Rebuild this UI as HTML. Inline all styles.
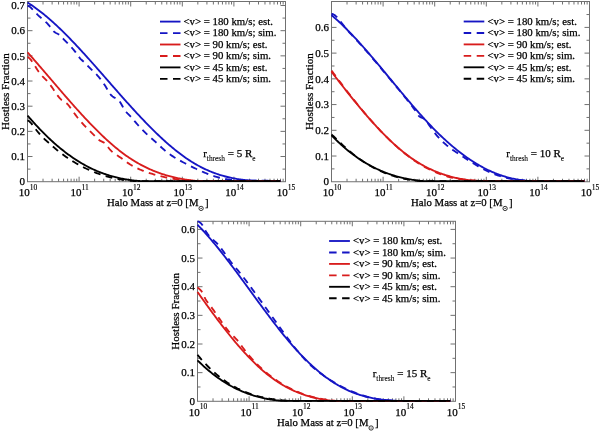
<!DOCTYPE html>
<html><head><meta charset="utf-8"><style>
html,body{margin:0;padding:0;background:#fff;}
svg{display:block;will-change:transform;}
.t{font-family:"Liberation Serif", serif;font-size:11px;fill:#000;stroke:#000;stroke-width:0.25px;}
.sup{font-size:7.5px;stroke-width:0.15px;}
.sub{font-size:7.4px;stroke-width:0.1px;}
</style></head><body>
<svg width="600" height="432" viewBox="0 0 600 432">
<rect width="600" height="432" fill="#fff"/>
<rect x="27.5" y="1.5" width="258.0" height="180.2" fill="none" stroke="#707070" stroke-width="1"/>
<path d="M27.5,169.11h3M285.5,169.11h-3M27.5,156.53h5M285.5,156.53h-5M27.5,143.94h3M285.5,143.94h-3M27.5,131.36h5M285.5,131.36h-5M27.5,118.77h3M285.5,118.77h-3M27.5,106.19h5M285.5,106.19h-5M27.5,93.60h3M285.5,93.60h-3M27.5,81.02h5M285.5,81.02h-5M27.5,68.43h3M285.5,68.43h-3M27.5,55.85h5M285.5,55.85h-5M27.5,43.26h3M285.5,43.26h-3M27.5,30.68h5M285.5,30.68h-5M27.5,18.09h3M285.5,18.09h-3M27.5,5.51h5M285.5,5.51h-5M43.03,181.7v-3M43.03,1.5v3M52.12,181.7v-3M52.12,1.5v3M58.57,181.7v-3M58.57,1.5v3M63.57,181.7v-3M63.57,1.5v3M67.65,181.7v-3M67.65,1.5v3M71.11,181.7v-3M71.11,1.5v3M74.10,181.7v-3M74.10,1.5v3M76.74,181.7v-3M76.74,1.5v3M79.10,181.7v-5M79.10,1.5v5M94.63,181.7v-3M94.63,1.5v3M103.72,181.7v-3M103.72,1.5v3M110.17,181.7v-3M110.17,1.5v3M115.17,181.7v-3M115.17,1.5v3M119.25,181.7v-3M119.25,1.5v3M122.71,181.7v-3M122.71,1.5v3M125.70,181.7v-3M125.70,1.5v3M128.34,181.7v-3M128.34,1.5v3M130.70,181.7v-5M130.70,1.5v5M146.23,181.7v-3M146.23,1.5v3M155.32,181.7v-3M155.32,1.5v3M161.77,181.7v-3M161.77,1.5v3M166.77,181.7v-3M166.77,1.5v3M170.85,181.7v-3M170.85,1.5v3M174.31,181.7v-3M174.31,1.5v3M177.30,181.7v-3M177.30,1.5v3M179.94,181.7v-3M179.94,1.5v3M182.30,181.7v-5M182.30,1.5v5M197.83,181.7v-3M197.83,1.5v3M206.92,181.7v-3M206.92,1.5v3M213.37,181.7v-3M213.37,1.5v3M218.37,181.7v-3M218.37,1.5v3M222.45,181.7v-3M222.45,1.5v3M225.91,181.7v-3M225.91,1.5v3M228.90,181.7v-3M228.90,1.5v3M231.54,181.7v-3M231.54,1.5v3M233.90,181.7v-5M233.90,1.5v5M249.43,181.7v-3M249.43,1.5v3M258.52,181.7v-3M258.52,1.5v3M264.97,181.7v-3M264.97,1.5v3M269.97,181.7v-3M269.97,1.5v3M274.05,181.7v-3M274.05,1.5v3M277.51,181.7v-3M277.51,1.5v3M280.50,181.7v-3M280.50,1.5v3M283.14,181.7v-3M283.14,1.5v3" stroke="#707070" stroke-width="1" fill="none"/>
<path d="M27.50,2.59 L28.50,3.16 L29.50,3.80 L30.50,4.46 L31.50,5.13 L32.50,5.81 L33.50,6.51 L34.50,7.21 L35.50,7.93 L36.50,8.66 L37.50,9.40 L38.50,10.15 L39.50,10.91 L40.50,11.69 L41.50,12.47 L42.50,13.27 L43.50,14.08 L44.50,14.89 L45.50,15.72 L46.50,16.56 L47.50,17.40 L48.50,18.26 L49.50,19.13 L50.50,20.00 L51.50,20.89 L52.50,21.78 L53.50,22.68 L54.50,23.59 L55.50,24.51 L56.50,25.44 L57.50,26.38 L58.50,27.32 L59.50,28.28 L60.50,29.24 L61.50,30.21 L62.50,31.18 L63.50,32.16 L64.50,33.15 L65.50,34.15 L66.50,35.16 L67.50,36.17 L68.50,37.18 L69.50,38.21 L70.50,39.24 L71.50,40.27 L72.50,41.31 L73.50,42.36 L74.50,43.41 L75.50,44.47 L76.50,45.53 L77.50,46.60 L78.50,47.67 L79.50,48.75 L80.50,49.83 L81.50,50.92 L82.50,52.01 L83.50,53.11 L84.50,54.21 L85.50,55.31 L86.50,56.42 L87.50,57.52 L88.50,58.64 L89.50,59.75 L90.50,60.87 L91.50,62.00 L92.50,63.12 L93.50,64.25 L94.50,65.38 L95.50,66.51 L96.50,67.64 L97.50,68.78 L98.50,69.91 L99.50,71.05 L100.50,72.19 L101.50,73.33 L102.50,74.47 L103.50,75.62 L104.50,76.76 L105.50,77.90 L106.50,79.05 L107.50,80.19 L108.50,81.34 L109.50,82.48 L110.50,83.63 L111.50,84.77 L112.50,85.91 L113.50,87.06 L114.50,88.20 L115.50,89.34 L116.50,90.48 L117.50,91.61 L118.50,92.75 L119.50,93.89 L120.50,95.02 L121.50,96.15 L122.50,97.28 L123.50,98.40 L124.50,99.53 L125.50,100.65 L126.50,101.77 L127.50,102.88 L128.50,103.99 L129.50,105.10 L130.50,106.21 L131.50,107.31 L132.50,108.41 L133.50,109.50 L134.50,110.59 L135.50,111.68 L136.50,112.76 L137.50,113.84 L138.50,114.92 L139.50,115.99 L140.50,117.05 L141.50,118.11 L142.50,119.16 L143.50,120.21 L144.50,121.26 L145.50,122.30 L146.50,123.33 L147.50,124.36 L148.50,125.38 L149.50,126.39 L150.50,127.40 L151.50,128.40 L152.50,129.40 L153.50,130.39 L154.50,131.37 L155.50,132.35 L156.50,133.32 L157.50,134.28 L158.50,135.23 L159.50,136.18 L160.50,137.12 L161.50,138.05 L162.50,138.97 L163.50,139.89 L164.50,140.80 L165.50,141.70 L166.50,142.59 L167.50,143.47 L168.50,144.34 L169.50,145.21 L170.50,146.06 L171.50,146.91 L172.50,147.74 L173.50,148.57 L174.50,149.39 L175.50,150.20 L176.50,150.99 L177.50,151.78 L178.50,152.56 L179.50,153.33 L180.50,154.08 L181.50,154.83 L182.50,155.57 L183.50,156.29 L184.50,157.01 L185.50,157.71 L186.50,158.40 L187.50,159.08 L188.50,159.75 L189.50,160.40 L190.50,161.05 L191.50,161.68 L192.50,162.30 L193.50,162.91 L194.50,163.51 L195.50,164.09 L196.50,164.66 L197.50,165.22 L198.50,165.77 L199.50,166.31 L200.50,166.84 L201.50,167.35 L202.50,167.85 L203.50,168.34 L204.50,168.82 L205.50,169.29 L206.50,169.75 L207.50,170.20 L208.50,170.64 L209.50,171.06 L210.50,171.48 L211.50,171.88 L212.50,172.28 L213.50,172.66 L214.50,173.04 L215.50,173.40 L216.50,173.75 L217.50,174.10 L218.50,174.43 L219.50,174.76 L220.50,175.07 L221.50,175.38 L222.50,175.67 L223.50,175.96 L224.50,176.24 L225.50,176.50 L226.50,176.76 L227.50,177.01 L228.50,177.25 L229.50,177.49 L230.50,177.71 L231.50,177.93 L232.50,178.13 L233.50,178.33 L234.50,178.52 L235.50,178.70 L236.50,178.87 L237.50,179.04 L238.50,179.20 L239.50,179.35 L240.50,179.49 L241.50,179.62 L242.50,179.75 L243.50,179.87 L244.50,179.98 L245.50,180.08 L246.50,180.18 L247.50,180.27 L248.50,180.36 L249.50,180.43 L250.50,180.50 L251.50,180.56 L252.50,180.62 L253.50,180.67 L254.50,180.71 L255.50,180.75 L256.50,180.78 L257.50,180.80 L258.50,180.82 L259.50,180.84 L260.50,180.84 L261.50,180.84 L262.50,180.84 L263.50,180.84 L264.50,180.84 L265.50,180.84 L266.50,180.84 L267.50,180.84 L268.50,180.84 L269.50,180.84 L270.50,180.84 L271.50,180.84 L272.50,180.84 L273.50,180.84 L274.50,180.84 L275.50,180.84 L276.50,180.84 L277.50,180.84 L278.50,180.84 L279.50,180.84 L280.34,180.84" fill="none" stroke="#1515c4" stroke-width="1.85" stroke-linejoin="round"/>
<path d="M27.50,5.65 L28.50,6.01 L29.50,6.60 L30.50,7.37 L31.50,8.28 L32.50,9.29 L33.50,10.36 L34.50,11.47 L35.50,12.58 L36.50,13.66 L37.50,14.67 L38.50,15.62 L39.50,16.52 L40.50,17.40 L41.50,18.25 L42.50,19.09 L43.50,19.94 L44.50,20.82 L45.50,21.72 L46.50,22.68 L47.50,23.69 L48.50,24.79 L49.50,25.97 L50.50,27.25 L51.50,28.62 L52.50,29.98 L53.50,31.17 L54.50,32.09 L55.50,32.75 L56.50,33.26 L57.50,33.71 L58.50,34.21 L59.50,34.87 L60.50,35.74 L61.50,36.77 L62.50,37.89 L63.50,39.01 L64.50,40.10 L65.50,41.15 L66.50,42.19 L67.50,43.21 L68.50,44.24 L69.50,45.27 L70.50,46.31 L71.50,47.39 L72.50,48.50 L73.50,49.66 L74.50,50.87 L75.50,52.14 L76.50,53.49 L77.50,54.91 L78.50,56.32 L79.50,57.65 L80.50,58.81 L81.50,59.80 L82.50,60.69 L83.50,61.55 L84.50,62.46 L85.50,63.46 L86.50,64.52 L87.50,65.58 L88.50,66.62 L89.50,67.63 L90.50,68.60 L91.50,69.57 L92.50,70.52 L93.50,71.48 L94.50,72.45 L95.50,73.45 L96.50,74.47 L97.50,75.54 L98.50,76.66 L99.50,77.83 L100.50,79.08 L101.50,80.41 L102.50,81.80 L103.50,83.26 L104.50,84.78 L105.50,86.36 L106.50,87.98 L107.50,89.64 L108.50,91.32 L109.50,92.96 L110.50,94.40 L111.50,95.54 L112.50,96.41 L113.50,97.09 L114.50,97.64 L115.50,98.15 L116.50,98.69 L117.50,99.34 L118.50,100.17 L119.50,101.27 L120.50,102.69 L121.50,104.44 L122.50,106.31 L123.50,108.13 L124.50,109.72 L125.50,111.09 L126.50,112.28 L127.50,113.36 L128.50,114.37 L129.50,115.37 L130.50,116.42 L131.50,117.53 L132.50,118.68 L133.50,119.85 L134.50,121.03 L135.50,122.21 L136.50,123.36 L137.50,124.50 L138.50,125.63 L139.50,126.73 L140.50,127.82 L141.50,128.88 L142.50,129.93 L143.50,130.96 L144.50,131.97 L145.50,132.95 L146.50,133.91 L147.50,134.85 L148.50,135.76 L149.50,136.65 L150.50,137.53 L151.50,138.39 L152.50,139.25 L153.50,140.12 L154.50,140.99 L155.50,141.88 L156.50,142.79 L157.50,143.72 L158.50,144.66 L159.50,145.60 L160.50,146.54 L161.50,147.48 L162.50,148.40 L163.50,149.30 L164.50,150.17 L165.50,151.01 L166.50,151.82 L167.50,152.60 L168.50,153.36 L169.50,154.09 L170.50,154.79 L171.50,155.48 L172.50,156.14 L173.50,156.79 L174.50,157.42 L175.50,158.03 L176.50,158.62 L177.50,159.20 L178.50,159.77 L179.50,160.33 L180.50,160.88 L181.50,161.42 L182.50,161.95 L183.50,162.48 L184.50,163.00 L185.50,163.52 L186.50,164.04 L187.50,164.55 L188.50,165.06 L189.50,165.57 L190.50,166.08 L191.50,166.58 L192.50,167.08 L193.50,167.57 L194.50,168.06 L195.50,168.54 L196.50,169.02 L197.50,169.49 L198.50,169.95 L199.50,170.41 L200.50,170.86 L201.50,171.31 L202.50,171.75 L203.50,172.18 L204.50,172.60 L205.50,173.01 L206.50,173.42 L207.50,173.81 L208.50,174.20 L209.50,174.58 L210.50,174.95 L211.50,175.31 L212.50,175.65 L213.50,175.99 L214.50,176.31 L215.50,176.63 L216.50,176.93 L217.50,177.22 L218.50,177.50 L219.50,177.76 L220.50,178.01 L221.50,178.25 L222.50,178.48 L223.50,178.69 L224.50,178.89 L225.50,179.08 L226.50,179.25 L227.50,179.41 L228.50,179.56 L229.50,179.70 L230.50,179.83 L231.50,179.95 L232.50,180.06 L233.50,180.16 L234.50,180.25 L235.50,180.34 L236.50,180.41 L237.50,180.48 L238.50,180.53 L239.50,180.59 L240.50,180.63 L241.50,180.67 L242.50,180.70 L243.50,180.73 L244.50,180.75 L245.50,180.76 L246.50,180.78 L247.50,180.78 L248.50,180.79 L249.50,180.79 L250.50,180.79 L251.50,180.79 L252.50,180.79 L253.50,180.79 L254.50,180.79 L255.50,180.79 L256.50,180.79 L257.50,180.79 L258.50,180.79 L259.50,180.79 L260.50,180.79 L261.50,180.79 L262.50,180.79 L263.50,180.79 L264.50,180.79 L265.50,180.79 L266.50,180.79 L267.50,180.79 L268.50,180.79 L269.50,180.79 L270.50,180.79 L271.50,180.79 L272.50,180.79 L273.50,180.79 L274.50,180.80 L275.50,180.84 L276.50,180.89 L277.50,180.95 L278.50,181.02 L279.50,181.10 L280.34,181.15" fill="none" stroke="#1515c4" stroke-width="1.85" stroke-dasharray="6.8 5.4" stroke-linejoin="round"/>
<path d="M27.50,52.42 L28.50,53.43 L29.50,54.57 L30.50,55.70 L31.50,56.84 L32.50,57.98 L33.50,59.12 L34.50,60.27 L35.50,61.42 L36.50,62.57 L37.50,63.72 L38.50,64.88 L39.50,66.04 L40.50,67.20 L41.50,68.36 L42.50,69.52 L43.50,70.68 L44.50,71.85 L45.50,73.01 L46.50,74.18 L47.50,75.35 L48.50,76.51 L49.50,77.68 L50.50,78.85 L51.50,80.02 L52.50,81.19 L53.50,82.35 L54.50,83.52 L55.50,84.69 L56.50,85.85 L57.50,87.02 L58.50,88.18 L59.50,89.34 L60.50,90.50 L61.50,91.66 L62.50,92.82 L63.50,93.98 L64.50,95.13 L65.50,96.28 L66.50,97.43 L67.50,98.57 L68.50,99.72 L69.50,100.86 L70.50,102.00 L71.50,103.13 L72.50,104.26 L73.50,105.39 L74.50,106.51 L75.50,107.63 L76.50,108.75 L77.50,109.86 L78.50,110.97 L79.50,112.07 L80.50,113.17 L81.50,114.26 L82.50,115.35 L83.50,116.43 L84.50,117.51 L85.50,118.58 L86.50,119.65 L87.50,120.71 L88.50,121.76 L89.50,122.81 L90.50,123.86 L91.50,124.89 L92.50,125.92 L93.50,126.94 L94.50,127.96 L95.50,128.97 L96.50,129.97 L97.50,130.97 L98.50,131.95 L99.50,132.93 L100.50,133.90 L101.50,134.87 L102.50,135.82 L103.50,136.77 L104.50,137.71 L105.50,138.64 L106.50,139.56 L107.50,140.47 L108.50,141.37 L109.50,142.27 L110.50,143.15 L111.50,144.03 L112.50,144.89 L113.50,145.74 L114.50,146.59 L115.50,147.42 L116.50,148.25 L117.50,149.06 L118.50,149.86 L119.50,150.66 L120.50,151.44 L121.50,152.21 L122.50,152.96 L123.50,153.71 L124.50,154.45 L125.50,155.17 L126.50,155.88 L127.50,156.58 L128.50,157.27 L129.50,157.94 L130.50,158.60 L131.50,159.25 L132.50,159.89 L133.50,160.52 L134.50,161.14 L135.50,161.74 L136.50,162.33 L137.50,162.91 L138.50,163.49 L139.50,164.04 L140.50,164.59 L141.50,165.13 L142.50,165.66 L143.50,166.17 L144.50,166.68 L145.50,167.17 L146.50,167.66 L147.50,168.13 L148.50,168.60 L149.50,169.05 L150.50,169.50 L151.50,169.93 L152.50,170.36 L153.50,170.77 L154.50,171.18 L155.50,171.57 L156.50,171.96 L157.50,172.34 L158.50,172.71 L159.50,173.06 L160.50,173.42 L161.50,173.76 L162.50,174.09 L163.50,174.41 L164.50,174.73 L165.50,175.04 L166.50,175.34 L167.50,175.63 L168.50,175.91 L169.50,176.19 L170.50,176.45 L171.50,176.71 L172.50,176.96 L173.50,177.21 L174.50,177.44 L175.50,177.67 L176.50,177.89 L177.50,178.11 L178.50,178.32 L179.50,178.52 L180.50,178.71 L181.50,178.90 L182.50,179.08 L183.50,179.25 L184.50,179.42 L185.50,179.58 L186.50,179.74 L187.50,179.88 L188.50,180.03 L189.50,180.16 L190.50,180.29 L191.50,180.42 L192.50,180.54 L193.50,180.65 L194.50,180.76 L195.50,180.86 L196.50,180.96 L197.50,181.05 L198.50,181.14 L199.50,181.15 L200.50,181.15 L201.50,181.15 L202.50,181.15 L203.50,181.15 L204.50,181.15 L205.50,181.15 L206.50,181.15 L207.50,181.15 L208.50,181.15 L209.50,181.15 L210.50,181.15 L211.50,181.15 L212.50,181.15 L213.50,181.15 L214.50,181.15 L215.50,181.15 L216.50,181.15 L217.50,181.15 L218.50,181.15 L219.50,181.15 L220.50,181.15 L221.50,181.15 L222.50,181.15 L223.50,181.15 L224.50,181.15 L225.50,181.15 L226.50,181.15 L227.50,181.15 L228.50,181.15 L229.50,181.15 L230.50,181.15 L231.50,181.15 L232.50,181.15 L233.50,181.15 L234.50,181.15 L235.50,181.15 L236.50,181.15 L237.50,181.15 L238.50,181.15 L239.50,181.15 L240.50,181.15 L241.50,181.15 L242.50,181.15 L243.50,181.15 L244.50,181.15 L245.50,181.15 L246.50,181.15 L247.50,181.15 L248.50,181.15 L249.50,181.15 L250.50,181.15 L251.50,181.15 L252.50,181.15 L253.50,181.15 L254.50,181.15 L255.50,181.15 L256.50,181.15 L257.50,181.15 L258.50,181.15 L259.50,181.15 L260.50,181.15 L261.50,181.15 L262.50,181.15 L263.50,181.15 L264.50,181.15 L265.50,181.15 L266.50,181.15 L267.50,181.15 L268.50,181.15 L269.50,181.15 L270.50,181.15 L271.50,181.15 L272.50,181.15 L273.50,181.15 L274.50,181.15 L275.50,181.15 L276.50,181.15 L277.50,181.15 L278.50,181.15 L279.50,181.15 L280.34,181.15" fill="none" stroke="#d81c1c" stroke-width="1.85" stroke-linejoin="round"/>
<path d="M27.50,56.86 L28.50,57.44 L29.50,58.32 L30.50,59.42 L31.50,60.69 L32.50,62.11 L33.50,63.62 L34.50,65.21 L35.50,66.83 L36.50,68.44 L37.50,70.01 L38.50,71.49 L39.50,72.87 L40.50,74.11 L41.50,75.25 L42.50,76.31 L43.50,77.32 L44.50,78.31 L45.50,79.30 L46.50,80.33 L47.50,81.41 L48.50,82.58 L49.50,83.85 L50.50,85.20 L51.50,86.62 L52.50,88.07 L53.50,89.55 L54.50,91.03 L55.50,92.50 L56.50,93.94 L57.50,95.32 L58.50,96.63 L59.50,97.84 L60.50,98.95 L61.50,99.92 L62.50,100.75 L63.50,101.41 L64.50,101.97 L65.50,102.54 L66.50,103.22 L67.50,104.11 L68.50,105.24 L69.50,106.54 L70.50,107.95 L71.50,109.38 L72.50,110.80 L73.50,112.20 L74.50,113.57 L75.50,114.92 L76.50,116.24 L77.50,117.53 L78.50,118.78 L79.50,120.00 L80.50,121.18 L81.50,122.33 L82.50,123.44 L83.50,124.52 L84.50,125.58 L85.50,126.62 L86.50,127.64 L87.50,128.65 L88.50,129.64 L89.50,130.63 L90.50,131.62 L91.50,132.60 L92.50,133.59 L93.50,134.58 L94.50,135.59 L95.50,136.61 L96.50,137.64 L97.50,138.66 L98.50,139.59 L99.50,140.35 L100.50,140.92 L101.50,141.38 L102.50,141.82 L103.50,142.33 L104.50,142.98 L105.50,143.86 L106.50,145.01 L107.50,146.33 L108.50,147.70 L109.50,149.01 L110.50,150.16 L111.50,151.17 L112.50,152.07 L113.50,152.87 L114.50,153.60 L115.50,154.27 L116.50,154.92 L117.50,155.56 L118.50,156.21 L119.50,156.89 L120.50,157.59 L121.50,158.31 L122.50,159.05 L123.50,159.79 L124.50,160.53 L125.50,161.27 L126.50,161.99 L127.50,162.70 L128.50,163.38 L129.50,164.04 L130.50,164.67 L131.50,165.27 L132.50,165.85 L133.50,166.41 L134.50,166.94 L135.50,167.45 L136.50,167.95 L137.50,168.42 L138.50,168.88 L139.50,169.32 L140.50,169.74 L141.50,170.15 L142.50,170.55 L143.50,170.93 L144.50,171.31 L145.50,171.67 L146.50,172.03 L147.50,172.37 L148.50,172.71 L149.50,173.04 L150.50,173.37 L151.50,173.68 L152.50,173.99 L153.50,174.29 L154.50,174.58 L155.50,174.86 L156.50,175.14 L157.50,175.41 L158.50,175.67 L159.50,175.93 L160.50,176.17 L161.50,176.41 L162.50,176.65 L163.50,176.87 L164.50,177.09 L165.50,177.31 L166.50,177.51 L167.50,177.71 L168.50,177.91 L169.50,178.10 L170.50,178.28 L171.50,178.45 L172.50,178.62 L173.50,178.78 L174.50,178.94 L175.50,179.09 L176.50,179.24 L177.50,179.38 L178.50,179.52 L179.50,179.65 L180.50,179.77 L181.50,179.89 L182.50,180.00 L183.50,180.11 L184.50,180.22 L185.50,180.31 L186.50,180.41 L187.50,180.50 L188.50,180.58 L189.50,180.66 L190.50,180.74 L191.50,180.81 L192.50,180.88 L193.50,180.94 L194.50,181.00 L195.50,181.06 L196.50,181.11 L197.50,181.15 L198.50,181.15 L199.50,181.15 L200.50,181.15 L201.50,181.15 L202.50,181.15 L203.50,181.15 L204.50,181.15 L205.50,181.15 L206.50,181.15 L207.50,181.15 L208.50,181.15 L209.50,181.15 L210.50,181.15 L211.50,181.15 L212.50,181.15 L213.50,181.15 L214.50,181.15 L215.50,181.15 L216.50,181.15 L217.50,181.15 L218.50,181.15 L219.50,181.15 L220.50,181.15 L221.50,181.15 L222.50,181.15 L223.50,181.15 L224.50,181.15 L225.50,181.15 L226.50,181.15 L227.50,181.15 L228.50,181.15 L229.50,181.15 L230.50,181.15 L231.50,181.15 L232.50,181.15 L233.50,181.15 L234.50,181.15 L235.50,181.15 L236.50,181.15 L237.50,181.15 L238.50,181.15 L239.50,181.15 L240.50,181.15 L241.50,181.15 L242.50,181.15 L243.50,181.15 L244.50,181.15 L245.50,181.15 L246.50,181.15 L247.50,181.15 L248.50,181.15 L249.50,181.15 L250.50,181.15 L251.50,181.15 L252.50,181.15 L253.50,181.15 L254.50,181.15 L255.50,181.15 L256.50,181.15 L257.50,181.15 L258.50,181.15 L259.50,181.15 L260.50,181.15 L261.50,181.15 L262.50,181.15 L263.50,181.15 L264.50,181.15 L265.50,181.15 L266.50,181.15 L267.50,181.15 L268.50,181.15 L269.50,181.15 L270.50,181.15 L271.50,181.15 L272.50,181.15 L273.50,181.15 L274.50,181.15 L275.50,181.15 L276.50,181.15 L277.50,181.15 L278.50,181.15 L279.50,181.15 L280.34,181.15" fill="none" stroke="#d81c1c" stroke-width="1.85" stroke-dasharray="6.8 5.4" stroke-linejoin="round"/>
<path d="M27.50,115.63 L28.50,116.57 L29.50,117.74 L30.50,118.90 L31.50,120.05 L32.50,121.18 L33.50,122.30 L34.50,123.42 L35.50,124.52 L36.50,125.61 L37.50,126.69 L38.50,127.75 L39.50,128.81 L40.50,129.86 L41.50,130.89 L42.50,131.91 L43.50,132.93 L44.50,133.93 L45.50,134.92 L46.50,135.90 L47.50,136.86 L48.50,137.82 L49.50,138.77 L50.50,139.70 L51.50,140.63 L52.50,141.54 L53.50,142.44 L54.50,143.33 L55.50,144.21 L56.50,145.08 L57.50,145.94 L58.50,146.78 L59.50,147.62 L60.50,148.44 L61.50,149.25 L62.50,150.06 L63.50,150.85 L64.50,151.63 L65.50,152.40 L66.50,153.15 L67.50,153.90 L68.50,154.64 L69.50,155.36 L70.50,156.08 L71.50,156.78 L72.50,157.47 L73.50,158.15 L74.50,158.82 L75.50,159.48 L76.50,160.13 L77.50,160.77 L78.50,161.40 L79.50,162.01 L80.50,162.62 L81.50,163.21 L82.50,163.79 L83.50,164.37 L84.50,164.93 L85.50,165.48 L86.50,166.02 L87.50,166.54 L88.50,167.06 L89.50,167.57 L90.50,168.06 L91.50,168.55 L92.50,169.02 L93.50,169.49 L94.50,169.94 L95.50,170.38 L96.50,170.81 L97.50,171.23 L98.50,171.65 L99.50,172.05 L100.50,172.44 L101.50,172.82 L102.50,173.19 L103.50,173.56 L104.50,173.91 L105.50,174.25 L106.50,174.59 L107.50,174.91 L108.50,175.23 L109.50,175.54 L110.50,175.83 L111.50,176.12 L112.50,176.40 L113.50,176.68 L114.50,176.94 L115.50,177.19 L116.50,177.44 L117.50,177.68 L118.50,177.91 L119.50,178.13 L120.50,178.34 L121.50,178.55 L122.50,178.75 L123.50,178.94 L124.50,179.12 L125.50,179.30 L126.50,179.47 L127.50,179.63 L128.50,179.78 L129.50,179.93 L130.50,180.07 L131.50,180.21 L132.50,180.33 L133.50,180.45 L134.50,180.57 L135.50,180.67 L136.50,180.78 L137.50,180.87 L138.50,180.96 L139.50,181.04 L140.50,181.12 L141.50,181.15 L142.50,181.15 L143.50,181.15 L144.50,181.15 L145.50,181.15 L146.50,181.15 L147.50,181.15 L148.50,181.15 L149.50,181.15 L150.50,181.15 L151.50,181.15 L152.50,181.15 L153.50,181.15 L154.50,181.15 L155.50,181.15 L156.50,181.15 L157.50,181.15 L158.50,181.15 L159.50,181.15 L160.50,181.15 L161.50,181.15 L162.50,181.15 L163.50,181.15 L164.50,181.15 L165.50,181.15 L166.50,181.15 L167.50,181.15 L168.50,181.15 L169.50,181.15 L170.50,181.15 L171.50,181.15 L172.50,181.15 L173.50,181.15 L174.50,181.15 L175.50,181.15 L176.50,181.15 L177.50,181.15 L178.50,181.15 L179.50,181.15 L180.50,181.15 L181.50,181.15 L182.50,181.15 L183.50,181.15 L184.50,181.15 L185.50,181.15 L186.50,181.15 L187.50,181.15 L188.50,181.15 L189.50,181.15 L190.50,181.15 L191.50,181.15 L192.50,181.15 L193.50,181.15 L194.50,181.15 L195.50,181.15 L196.50,181.15 L197.50,181.15 L198.50,181.15 L199.50,181.15 L200.50,181.15 L201.50,181.15 L202.50,181.15 L203.50,181.15 L204.50,181.15 L205.50,181.15 L206.50,181.15 L207.50,181.15 L208.50,181.15 L209.50,181.15 L210.50,181.15 L211.50,181.15 L212.50,181.15 L213.50,181.15 L214.50,181.15 L215.50,181.15 L216.50,181.15 L217.50,181.15 L218.50,181.15 L219.50,181.15 L220.50,181.15 L221.50,181.15 L222.50,181.15 L223.50,181.15 L224.50,181.15 L225.50,181.15 L226.50,181.15 L227.50,181.15 L228.50,181.15 L229.50,181.15 L230.50,181.15 L231.50,181.15 L232.50,181.15 L233.50,181.15 L234.50,181.15 L235.50,181.15 L236.50,181.15 L237.50,181.15 L238.50,181.15 L239.50,181.15 L240.50,181.15 L241.50,181.15 L242.50,181.15 L243.50,181.15 L244.50,181.15 L245.50,181.15 L246.50,181.15 L247.50,181.15 L248.50,181.15 L249.50,181.15 L250.50,181.15 L251.50,181.15 L252.50,181.15 L253.50,181.15 L254.50,181.15 L255.50,181.15 L256.50,181.15 L257.50,181.15 L258.50,181.15 L259.50,181.15 L260.50,181.15 L261.50,181.15 L262.50,181.15 L263.50,181.15 L264.50,181.15 L265.50,181.15 L266.50,181.15 L267.50,181.15 L268.50,181.15 L269.50,181.15 L270.50,181.15 L271.50,181.15 L272.50,181.15 L273.50,181.15 L274.50,181.15 L275.50,181.15 L276.50,181.15 L277.50,181.15 L278.50,181.15 L279.50,181.15 L280.34,181.15" fill="none" stroke="#000000" stroke-width="1.85" stroke-linejoin="round"/>
<path d="M27.50,120.45 L28.50,120.84 L29.50,121.56 L30.50,122.50 L31.50,123.60 L32.50,124.84 L33.50,126.16 L34.50,127.52 L35.50,128.89 L36.50,130.22 L37.50,131.49 L38.50,132.72 L39.50,133.89 L40.50,135.01 L41.50,136.09 L42.50,137.11 L43.50,138.10 L44.50,139.05 L45.50,139.97 L46.50,140.88 L47.50,141.77 L48.50,142.65 L49.50,143.54 L50.50,144.43 L51.50,145.32 L52.50,146.20 L53.50,147.07 L54.50,147.92 L55.50,148.76 L56.50,149.59 L57.50,150.41 L58.50,151.21 L59.50,152.00 L60.50,152.77 L61.50,153.53 L62.50,154.28 L63.50,155.02 L64.50,155.75 L65.50,156.46 L66.50,157.16 L67.50,157.85 L68.50,158.52 L69.50,159.18 L70.50,159.84 L71.50,160.48 L72.50,161.11 L73.50,161.72 L74.50,162.33 L75.50,162.93 L76.50,163.51 L77.50,164.08 L78.50,164.65 L79.50,165.20 L80.50,165.74 L81.50,166.27 L82.50,166.79 L83.50,167.30 L84.50,167.80 L85.50,168.29 L86.50,168.77 L87.50,169.24 L88.50,169.70 L89.50,170.15 L90.50,170.59 L91.50,171.02 L92.50,171.43 L93.50,171.84 L94.50,172.24 L95.50,172.64 L96.50,173.02 L97.50,173.39 L98.50,173.75 L99.50,174.10 L100.50,174.44 L101.50,174.78 L102.50,175.10 L103.50,175.42 L104.50,175.72 L105.50,176.02 L106.50,176.31 L107.50,176.59 L108.50,176.86 L109.50,177.12 L110.50,177.37 L111.50,177.62 L112.50,177.85 L113.50,178.08 L114.50,178.30 L115.50,178.51 L116.50,178.71 L117.50,178.91 L118.50,179.09 L119.50,179.27 L120.50,179.45 L121.50,179.61 L122.50,179.77 L123.50,179.92 L124.50,180.06 L125.50,180.19 L126.50,180.32 L127.50,180.44 L128.50,180.56 L129.50,180.67 L130.50,180.77 L131.50,180.86 L132.50,180.95 L133.50,181.03 L134.50,181.11 L135.50,181.15 L136.50,181.15 L137.50,181.15 L138.50,181.15 L139.50,181.15 L140.50,181.15 L141.50,181.15 L142.50,181.15 L143.50,181.15 L144.50,181.15 L145.50,181.15 L146.50,181.15 L147.50,181.15 L148.50,181.15 L149.50,181.15 L150.50,181.15 L151.50,181.15 L152.50,181.15 L153.50,181.15 L154.50,181.15 L155.50,181.15 L156.50,181.15 L157.50,181.15 L158.50,181.15 L159.50,181.15 L160.50,181.15 L161.50,181.15 L162.50,181.15 L163.50,181.15 L164.50,181.15 L165.50,181.15 L166.50,181.15 L167.50,181.15 L168.50,181.15 L169.50,181.15 L170.50,181.15 L171.50,181.15 L172.50,181.15 L173.50,181.15 L174.50,181.15 L175.50,181.15 L176.50,181.15 L177.50,181.15 L178.50,181.15 L179.50,181.15 L180.50,181.15 L181.50,181.15 L182.50,181.15 L183.50,181.15 L184.50,181.15 L185.50,181.15 L186.50,181.15 L187.50,181.15 L188.50,181.15 L189.50,181.15 L190.50,181.15 L191.50,181.15 L192.50,181.15 L193.50,181.15 L194.50,181.15 L195.50,181.15 L196.50,181.15 L197.50,181.15 L198.50,181.15 L199.50,181.15 L200.50,181.15 L201.50,181.15 L202.50,181.15 L203.50,181.15 L204.50,181.15 L205.50,181.15 L206.50,181.15 L207.50,181.15 L208.50,181.15 L209.50,181.15 L210.50,181.15 L211.50,181.15 L212.50,181.15 L213.50,181.15 L214.50,181.15 L215.50,181.15 L216.50,181.15 L217.50,181.15 L218.50,181.15 L219.50,181.15 L220.50,181.15 L221.50,181.15 L222.50,181.15 L223.50,181.15 L224.50,181.15 L225.50,181.15 L226.50,181.15 L227.50,181.15 L228.50,181.15 L229.50,181.15 L230.50,181.15 L231.50,181.15 L232.50,181.15 L233.50,181.15 L234.50,181.15 L235.50,181.15 L236.50,181.15 L237.50,181.15 L238.50,181.15 L239.50,181.15 L240.50,181.15 L241.50,181.15 L242.50,181.15 L243.50,181.15 L244.50,181.15 L245.50,181.15 L246.50,181.15 L247.50,181.15 L248.50,181.15 L249.50,181.15 L250.50,181.15 L251.50,181.15 L252.50,181.15 L253.50,181.15 L254.50,181.15 L255.50,181.15 L256.50,181.15 L257.50,181.15 L258.50,181.15 L259.50,181.15 L260.50,181.15 L261.50,181.15 L262.50,181.15 L263.50,181.15 L264.50,181.15 L265.50,181.15 L266.50,181.15 L267.50,181.15 L268.50,181.15 L269.50,181.15 L270.50,181.15 L271.50,181.15 L272.50,181.15 L273.50,181.15 L274.50,181.15 L275.50,181.15 L276.50,181.15 L277.50,181.15 L278.50,181.15 L279.50,181.15 L280.34,181.15" fill="none" stroke="#000000" stroke-width="1.85" stroke-dasharray="6.8 5.4" stroke-linejoin="round"/>
<text x="25.0" y="185.40" text-anchor="end" class="t">0</text>
<text x="25.0" y="160.23" text-anchor="end" class="t">0.1</text>
<text x="25.0" y="135.06" text-anchor="end" class="t">0.2</text>
<text x="25.0" y="109.89" text-anchor="end" class="t">0.3</text>
<text x="25.0" y="84.72" text-anchor="end" class="t">0.4</text>
<text x="25.0" y="59.55" text-anchor="end" class="t">0.5</text>
<text x="25.0" y="34.38" text-anchor="end" class="t">0.6</text>
<text x="25.0" y="9.21" text-anchor="end" class="t">0.7</text>
<text x="28.00" y="196.2" text-anchor="middle" class="t">10<tspan dy="-6.4" class="sup">10</tspan></text>
<text x="79.60" y="196.2" text-anchor="middle" class="t">10<tspan dy="-6.4" class="sup">11</tspan></text>
<text x="131.20" y="196.2" text-anchor="middle" class="t">10<tspan dy="-6.4" class="sup">12</tspan></text>
<text x="182.80" y="196.2" text-anchor="middle" class="t">10<tspan dy="-6.4" class="sup">13</tspan></text>
<text x="234.40" y="196.2" text-anchor="middle" class="t">10<tspan dy="-6.4" class="sup">14</tspan></text>
<text x="286.00" y="196.2" text-anchor="middle" class="t">10<tspan dy="-6.4" class="sup">15</tspan></text>
<text x="107.00" y="206.10" class="t" style="font-size:10.75px">Halo Mass at z=0 [M</text>
<circle cx="201.10" cy="208.40" r="2.15" fill="none" stroke="#000" stroke-width="0.8"/><circle cx="201.10" cy="208.40" r="0.6" fill="#000"/>
<text x="204.90" y="206.10" class="t" style="font-size:10.75px">]</text>
<text transform="translate(9.0,91.60) rotate(-90)" text-anchor="middle" class="t">Hostless Fraction</text>
<path d="M160.0,21.60H180.5" stroke="#1515c4" stroke-width="1.85"/>
<text x="183.5" y="24.90" class="t" style="font-size:10.8px">&lt;v&gt; = 180 km/s; est.</text>
<path d="M160.0,33.05H180.5" stroke="#1515c4" stroke-width="1.85" stroke-dasharray="7.5 5.5"/>
<text x="183.5" y="36.35" class="t" style="font-size:10.8px">&lt;v&gt; = 180 km/s; sim.</text>
<path d="M160.0,44.50H180.5" stroke="#d81c1c" stroke-width="1.85"/>
<text x="183.5" y="47.80" class="t" style="font-size:10.8px">&lt;v&gt; = 90 km/s; est.</text>
<path d="M160.0,55.95H180.5" stroke="#d81c1c" stroke-width="1.85" stroke-dasharray="7.5 5.5"/>
<text x="183.5" y="59.25" class="t" style="font-size:10.8px">&lt;v&gt; = 90 km/s; sim.</text>
<path d="M160.0,67.40H180.5" stroke="#000000" stroke-width="1.85"/>
<text x="183.5" y="70.70" class="t" style="font-size:10.8px">&lt;v&gt; = 45 km/s; est.</text>
<path d="M160.0,78.85H180.5" stroke="#000000" stroke-width="1.85" stroke-dasharray="7.5 5.5"/>
<text x="183.5" y="82.15" class="t" style="font-size:10.8px">&lt;v&gt; = 45 km/s; sim.</text>
<text x="203.2" y="157.4" class="t">r<tspan dy="3.8" class="sub">thresh</tspan><tspan dy="-3.8"> = 5 R</tspan><tspan dy="3.8" class="sub">e</tspan></text>
<rect x="331.5" y="1.5" width="258.0" height="180.25" fill="none" stroke="#707070" stroke-width="1"/>
<path d="M331.5,168.89h3M589.5,168.89h-3M331.5,156.03h5M589.5,156.03h-5M331.5,143.16h3M589.5,143.16h-3M331.5,130.30h5M589.5,130.30h-5M331.5,117.44h3M589.5,117.44h-3M331.5,104.57h5M589.5,104.57h-5M331.5,91.71h3M589.5,91.71h-3M331.5,78.85h5M589.5,78.85h-5M331.5,65.99h3M589.5,65.99h-3M331.5,53.12h5M589.5,53.12h-5M331.5,40.26h3M589.5,40.26h-3M331.5,27.40h5M589.5,27.40h-5M331.5,14.54h3M589.5,14.54h-3M347.03,181.75v-3M347.03,1.5v3M356.12,181.75v-3M356.12,1.5v3M362.57,181.75v-3M362.57,1.5v3M367.57,181.75v-3M367.57,1.5v3M371.65,181.75v-3M371.65,1.5v3M375.11,181.75v-3M375.11,1.5v3M378.10,181.75v-3M378.10,1.5v3M380.74,181.75v-3M380.74,1.5v3M383.10,181.75v-5M383.10,1.5v5M398.63,181.75v-3M398.63,1.5v3M407.72,181.75v-3M407.72,1.5v3M414.17,181.75v-3M414.17,1.5v3M419.17,181.75v-3M419.17,1.5v3M423.25,181.75v-3M423.25,1.5v3M426.71,181.75v-3M426.71,1.5v3M429.70,181.75v-3M429.70,1.5v3M432.34,181.75v-3M432.34,1.5v3M434.70,181.75v-5M434.70,1.5v5M450.23,181.75v-3M450.23,1.5v3M459.32,181.75v-3M459.32,1.5v3M465.77,181.75v-3M465.77,1.5v3M470.77,181.75v-3M470.77,1.5v3M474.85,181.75v-3M474.85,1.5v3M478.31,181.75v-3M478.31,1.5v3M481.30,181.75v-3M481.30,1.5v3M483.94,181.75v-3M483.94,1.5v3M486.30,181.75v-5M486.30,1.5v5M501.83,181.75v-3M501.83,1.5v3M510.92,181.75v-3M510.92,1.5v3M517.37,181.75v-3M517.37,1.5v3M522.37,181.75v-3M522.37,1.5v3M526.45,181.75v-3M526.45,1.5v3M529.91,181.75v-3M529.91,1.5v3M532.90,181.75v-3M532.90,1.5v3M535.54,181.75v-3M535.54,1.5v3M537.90,181.75v-5M537.90,1.5v5M553.43,181.75v-3M553.43,1.5v3M562.52,181.75v-3M562.52,1.5v3M568.97,181.75v-3M568.97,1.5v3M573.97,181.75v-3M573.97,1.5v3M578.05,181.75v-3M578.05,1.5v3M581.51,181.75v-3M581.51,1.5v3M584.50,181.75v-3M584.50,1.5v3M587.14,181.75v-3M587.14,1.5v3" stroke="#707070" stroke-width="1" fill="none"/>
<path d="M331.50,15.12 L332.50,15.97 L333.50,16.83 L334.50,17.70 L335.50,18.58 L336.50,19.48 L337.50,20.39 L338.50,21.30 L339.50,22.23 L340.50,23.17 L341.50,24.12 L342.50,25.08 L343.50,26.05 L344.50,27.03 L345.50,28.02 L346.50,29.02 L347.50,30.03 L348.50,31.05 L349.50,32.08 L350.50,33.11 L351.50,34.16 L352.50,35.21 L353.50,36.27 L354.50,37.34 L355.50,38.41 L356.50,39.49 L357.50,40.58 L358.50,41.68 L359.50,42.78 L360.50,43.89 L361.50,45.01 L362.50,46.13 L363.50,47.26 L364.50,48.39 L365.50,49.53 L366.50,50.68 L367.50,51.83 L368.50,52.98 L369.50,54.14 L370.50,55.31 L371.50,56.48 L372.50,57.65 L373.50,58.82 L374.50,60.00 L375.50,61.19 L376.50,62.37 L377.50,63.56 L378.50,64.76 L379.50,65.95 L380.50,67.15 L381.50,68.35 L382.50,69.55 L383.50,70.75 L384.50,71.96 L385.50,73.16 L386.50,74.37 L387.50,75.58 L388.50,76.79 L389.50,78.00 L390.50,79.21 L391.50,80.42 L392.50,81.63 L393.50,82.84 L394.50,84.04 L395.50,85.25 L396.50,86.46 L397.50,87.67 L398.50,88.87 L399.50,90.07 L400.50,91.27 L401.50,92.47 L402.50,93.67 L403.50,94.87 L404.50,96.06 L405.50,97.25 L406.50,98.43 L407.50,99.62 L408.50,100.80 L409.50,101.97 L410.50,103.15 L411.50,104.31 L412.50,105.48 L413.50,106.64 L414.50,107.79 L415.50,108.94 L416.50,110.09 L417.50,111.23 L418.50,112.36 L419.50,113.49 L420.50,114.61 L421.50,115.73 L422.50,116.84 L423.50,117.94 L424.50,119.04 L425.50,120.13 L426.50,121.21 L427.50,122.29 L428.50,123.36 L429.50,124.42 L430.50,125.47 L431.50,126.51 L432.50,127.55 L433.50,128.57 L434.50,129.59 L435.50,130.60 L436.50,131.60 L437.50,132.59 L438.50,133.57 L439.50,134.54 L440.50,135.51 L441.50,136.46 L442.50,137.40 L443.50,138.34 L444.50,139.26 L445.50,140.18 L446.50,141.09 L447.50,141.98 L448.50,142.87 L449.50,143.75 L450.50,144.62 L451.50,145.48 L452.50,146.33 L453.50,147.16 L454.50,147.99 L455.50,148.81 L456.50,149.63 L457.50,150.43 L458.50,151.22 L459.50,152.00 L460.50,152.77 L461.50,153.53 L462.50,154.28 L463.50,155.02 L464.50,155.75 L465.50,156.47 L466.50,157.19 L467.50,157.89 L468.50,158.58 L469.50,159.26 L470.50,159.93 L471.50,160.59 L472.50,161.24 L473.50,161.88 L474.50,162.51 L475.50,163.13 L476.50,163.74 L477.50,164.33 L478.50,164.92 L479.50,165.50 L480.50,166.07 L481.50,166.62 L482.50,167.17 L483.50,167.71 L484.50,168.23 L485.50,168.74 L486.50,169.25 L487.50,169.74 L488.50,170.22 L489.50,170.69 L490.50,171.15 L491.50,171.60 L492.50,172.04 L493.50,172.47 L494.50,172.89 L495.50,173.29 L496.50,173.69 L497.50,174.07 L498.50,174.45 L499.50,174.81 L500.50,175.16 L501.50,175.50 L502.50,175.83 L503.50,176.15 L504.50,176.45 L505.50,176.75 L506.50,177.03 L507.50,177.31 L508.50,177.57 L509.50,177.83 L510.50,178.07 L511.50,178.31 L512.50,178.53 L513.50,178.75 L514.50,178.96 L515.50,179.15 L516.50,179.34 L517.50,179.52 L518.50,179.69 L519.50,179.86 L520.50,180.01 L521.50,180.16 L522.50,180.29 L523.50,180.43 L524.50,180.55 L525.50,180.66 L526.50,180.77 L527.50,180.87 L528.50,180.97 L529.50,181.06 L530.50,181.14 L531.50,181.15 L532.50,181.15 L533.50,181.15 L534.50,181.15 L535.50,181.15 L536.50,181.15 L537.50,181.15 L538.50,181.15 L539.50,181.15 L540.50,181.15 L541.50,181.15 L542.50,181.15 L543.50,181.15 L544.50,181.15 L545.50,181.15 L546.50,181.15 L547.50,181.15 L548.50,181.15 L549.50,181.15 L550.50,181.15 L551.50,181.15 L552.50,181.15 L553.50,181.15 L554.50,181.15 L555.50,181.15 L556.50,181.15 L557.50,181.15 L558.50,181.15 L559.50,181.15 L560.50,181.15 L561.50,181.15 L562.50,181.15 L563.50,181.15 L564.50,181.15 L565.50,181.15 L566.50,181.15 L567.50,181.15 L568.50,181.15 L569.50,181.15 L570.50,181.15 L571.50,181.15 L572.50,181.15 L573.50,181.15 L574.50,181.15 L575.50,181.15 L576.50,181.15 L577.50,181.15 L578.50,181.15 L579.50,181.15 L580.50,181.15 L581.50,181.15 L582.50,181.15 L583.50,181.15 L584.34,181.15" fill="none" stroke="#1515c4" stroke-width="1.85" stroke-linejoin="round"/>
<path d="M331.50,13.80 L332.50,14.01 L333.50,14.43 L334.50,15.04 L335.50,15.82 L336.50,16.74 L337.50,17.79 L338.50,18.93 L339.50,20.16 L340.50,21.44 L341.50,22.75 L342.50,24.08 L343.50,25.40 L344.50,26.68 L345.50,27.92 L346.50,29.12 L347.50,30.29 L348.50,31.43 L349.50,32.55 L350.50,33.64 L351.50,34.72 L352.50,35.79 L353.50,36.86 L354.50,37.92 L355.50,38.98 L356.50,40.05 L357.50,41.13 L358.50,42.22 L359.50,43.32 L360.50,44.42 L361.50,45.53 L362.50,46.65 L363.50,47.78 L364.50,48.91 L365.50,50.05 L366.50,51.20 L367.50,52.35 L368.50,53.51 L369.50,54.67 L370.50,55.84 L371.50,57.01 L372.50,58.18 L373.50,59.36 L374.50,60.55 L375.50,61.73 L376.50,62.92 L377.50,64.12 L378.50,65.31 L379.50,66.51 L380.50,67.70 L381.50,68.90 L382.50,70.10 L383.50,71.30 L384.50,72.51 L385.50,73.71 L386.50,74.91 L387.50,76.11 L388.50,77.31 L389.50,78.51 L390.50,79.70 L391.50,80.90 L392.50,82.09 L393.50,83.28 L394.50,84.48 L395.50,85.67 L396.50,86.86 L397.50,88.06 L398.50,89.26 L399.50,90.46 L400.50,91.67 L401.50,92.88 L402.50,94.10 L403.50,95.32 L404.50,96.55 L405.50,97.80 L406.50,99.04 L407.50,100.30 L408.50,101.57 L409.50,102.85 L410.50,104.15 L411.50,105.45 L412.50,106.77 L413.50,108.10 L414.50,109.45 L415.50,110.88 L416.50,112.49 L417.50,114.16 L418.50,115.56 L419.50,116.50 L420.50,117.11 L421.50,117.55 L422.50,117.97 L423.50,118.52 L424.50,119.31 L425.50,120.31 L426.50,121.48 L427.50,122.78 L428.50,124.17 L429.50,125.60 L430.50,127.04 L431.50,128.46 L432.50,129.86 L433.50,131.23 L434.50,132.56 L435.50,133.85 L436.50,135.10 L437.50,136.29 L438.50,137.43 L439.50,138.53 L440.50,139.58 L441.50,140.60 L442.50,141.57 L443.50,142.51 L444.50,143.41 L445.50,144.28 L446.50,145.13 L447.50,145.94 L448.50,146.73 L449.50,147.50 L450.50,148.24 L451.50,148.97 L452.50,149.69 L453.50,150.39 L454.50,151.08 L455.50,151.76 L456.50,152.43 L457.50,153.10 L458.50,153.77 L459.50,154.43 L460.50,155.10 L461.50,155.77 L462.50,156.43 L463.50,157.09 L464.50,157.75 L465.50,158.40 L466.50,159.05 L467.50,159.70 L468.50,160.34 L469.50,160.98 L470.50,161.61 L471.50,162.24 L472.50,162.86 L473.50,163.47 L474.50,164.08 L475.50,164.68 L476.50,165.27 L477.50,165.86 L478.50,166.43 L479.50,167.00 L480.50,167.56 L481.50,168.11 L482.50,168.65 L483.50,169.17 L484.50,169.69 L485.50,170.20 L486.50,170.69 L487.50,171.18 L488.50,171.65 L489.50,172.10 L490.50,172.55 L491.50,172.98 L492.50,173.39 L493.50,173.79 L494.50,174.18 L495.50,174.56 L496.50,174.92 L497.50,175.27 L498.50,175.60 L499.50,175.92 L500.50,176.23 L501.50,176.53 L502.50,176.81 L503.50,177.09 L504.50,177.35 L505.50,177.60 L506.50,177.84 L507.50,178.06 L508.50,178.28 L509.50,178.49 L510.50,178.69 L511.50,178.87 L512.50,179.05 L513.50,179.22 L514.50,179.38 L515.50,179.52 L516.50,179.66 L517.50,179.80 L518.50,179.92 L519.50,180.04 L520.50,180.14 L521.50,180.24 L522.50,180.33 L523.50,180.42 L524.50,180.50 L525.50,180.57 L526.50,180.63 L527.50,180.69 L528.50,180.74 L529.50,180.79 L530.50,180.83 L531.50,180.87 L532.50,180.90 L533.50,180.93 L534.50,180.95 L535.50,180.96 L536.50,180.98 L537.50,180.98 L538.50,180.99 L539.50,180.99 L540.50,180.99 L541.50,180.99 L542.50,180.99 L543.50,180.99 L544.50,180.99 L545.50,180.99 L546.50,180.99 L547.50,180.99 L548.50,180.99 L549.50,180.99 L550.50,180.99 L551.50,180.99 L552.50,180.99 L553.50,180.99 L554.50,180.99 L555.50,180.99 L556.50,180.99 L557.50,180.99 L558.50,180.99 L559.50,180.99 L560.50,180.99 L561.50,180.99 L562.50,180.99 L563.50,180.99 L564.50,180.99 L565.50,180.99 L566.50,180.99 L567.50,180.99 L568.50,180.99 L569.50,180.99 L570.50,180.99 L571.50,180.99 L572.50,180.99 L573.50,180.99 L574.50,180.99 L575.50,180.99 L576.50,180.99 L577.50,180.99 L578.50,180.99 L579.50,180.99 L580.50,180.99 L581.50,180.99 L582.50,181.04 L583.50,181.11 L584.34,181.15" fill="none" stroke="#1515c4" stroke-width="1.85" stroke-dasharray="6.8 5.4" stroke-linejoin="round"/>
<path d="M331.50,71.87 L332.50,73.04 L333.50,74.35 L334.50,75.66 L335.50,76.96 L336.50,78.26 L337.50,79.55 L338.50,80.85 L339.50,82.14 L340.50,83.43 L341.50,84.71 L342.50,86.00 L343.50,87.27 L344.50,88.55 L345.50,89.82 L346.50,91.09 L347.50,92.35 L348.50,93.61 L349.50,94.86 L350.50,96.11 L351.50,97.36 L352.50,98.60 L353.50,99.83 L354.50,101.06 L355.50,102.29 L356.50,103.51 L357.50,104.72 L358.50,105.93 L359.50,107.14 L360.50,108.33 L361.50,109.52 L362.50,110.71 L363.50,111.89 L364.50,113.06 L365.50,114.22 L366.50,115.38 L367.50,116.53 L368.50,117.68 L369.50,118.81 L370.50,119.94 L371.50,121.07 L372.50,122.18 L373.50,123.29 L374.50,124.39 L375.50,125.48 L376.50,126.56 L377.50,127.64 L378.50,128.70 L379.50,129.76 L380.50,130.81 L381.50,131.85 L382.50,132.88 L383.50,133.90 L384.50,134.91 L385.50,135.91 L386.50,136.91 L387.50,137.89 L388.50,138.86 L389.50,139.83 L390.50,140.78 L391.50,141.72 L392.50,142.65 L393.50,143.58 L394.50,144.49 L395.50,145.39 L396.50,146.27 L397.50,147.15 L398.50,148.02 L399.50,148.87 L400.50,149.72 L401.50,150.55 L402.50,151.37 L403.50,152.17 L404.50,152.97 L405.50,153.75 L406.50,154.52 L407.50,155.28 L408.50,156.03 L409.50,156.76 L410.50,157.48 L411.50,158.18 L412.50,158.87 L413.50,159.55 L414.50,160.22 L415.50,160.87 L416.50,161.51 L417.50,162.14 L418.50,162.76 L419.50,163.36 L420.50,163.95 L421.50,164.53 L422.50,165.10 L423.50,165.65 L424.50,166.20 L425.50,166.73 L426.50,167.25 L427.50,167.76 L428.50,168.25 L429.50,168.74 L430.50,169.21 L431.50,169.68 L432.50,170.13 L433.50,170.57 L434.50,171.00 L435.50,171.42 L436.50,171.83 L437.50,172.23 L438.50,172.62 L439.50,173.00 L440.50,173.37 L441.50,173.73 L442.50,174.08 L443.50,174.42 L444.50,174.75 L445.50,175.07 L446.50,175.38 L447.50,175.68 L448.50,175.98 L449.50,176.26 L450.50,176.54 L451.50,176.80 L452.50,177.06 L453.50,177.31 L454.50,177.55 L455.50,177.79 L456.50,178.01 L457.50,178.23 L458.50,178.44 L459.50,178.64 L460.50,178.83 L461.50,179.02 L462.50,179.20 L463.50,179.37 L464.50,179.53 L465.50,179.69 L466.50,179.84 L467.50,179.98 L468.50,180.12 L469.50,180.25 L470.50,180.37 L471.50,180.49 L472.50,180.60 L473.50,180.70 L474.50,180.80 L475.50,180.89 L476.50,180.98 L477.50,181.06 L478.50,181.13 L479.50,181.15 L480.50,181.15 L481.50,181.15 L482.50,181.15 L483.50,181.15 L484.50,181.15 L485.50,181.15 L486.50,181.15 L487.50,181.15 L488.50,181.15 L489.50,181.15 L490.50,181.15 L491.50,181.15 L492.50,181.15 L493.50,181.15 L494.50,181.15 L495.50,181.15 L496.50,181.15 L497.50,181.15 L498.50,181.15 L499.50,181.15 L500.50,181.15 L501.50,181.15 L502.50,181.15 L503.50,181.15 L504.50,181.15 L505.50,181.15 L506.50,181.15 L507.50,181.15 L508.50,181.15 L509.50,181.15 L510.50,181.15 L511.50,181.15 L512.50,181.15 L513.50,181.15 L514.50,181.15 L515.50,181.15 L516.50,181.15 L517.50,181.15 L518.50,181.15 L519.50,181.15 L520.50,181.15 L521.50,181.15 L522.50,181.15 L523.50,181.15 L524.50,181.15 L525.50,181.15 L526.50,181.15 L527.50,181.15 L528.50,181.15 L529.50,181.15 L530.50,181.15 L531.50,181.15 L532.50,181.15 L533.50,181.15 L534.50,181.15 L535.50,181.15 L536.50,181.15 L537.50,181.15 L538.50,181.15 L539.50,181.15 L540.50,181.15 L541.50,181.15 L542.50,181.15 L543.50,181.15 L544.50,181.15 L545.50,181.15 L546.50,181.15 L547.50,181.15 L548.50,181.15 L549.50,181.15 L550.50,181.15 L551.50,181.15 L552.50,181.15 L553.50,181.15 L554.50,181.15 L555.50,181.15 L556.50,181.15 L557.50,181.15 L558.50,181.15 L559.50,181.15 L560.50,181.15 L561.50,181.15 L562.50,181.15 L563.50,181.15 L564.50,181.15 L565.50,181.15 L566.50,181.15 L567.50,181.15 L568.50,181.15 L569.50,181.15 L570.50,181.15 L571.50,181.15 L572.50,181.15 L573.50,181.15 L574.50,181.15 L575.50,181.15 L576.50,181.15 L577.50,181.15 L578.50,181.15 L579.50,181.15 L580.50,181.15 L581.50,181.15 L582.50,181.15 L583.50,181.15 L584.34,181.15" fill="none" stroke="#d81c1c" stroke-width="1.85" stroke-linejoin="round"/>
<path d="M331.50,70.60 L332.50,71.83 L333.50,73.19 L334.50,74.55 L335.50,75.90 L336.50,77.25 L337.50,78.59 L338.50,79.93 L339.50,81.27 L340.50,82.60 L341.50,83.92 L342.50,85.24 L343.50,86.56 L344.50,87.87 L345.50,89.18 L346.50,90.48 L347.50,91.77 L348.50,93.06 L349.50,94.34 L350.50,95.62 L351.50,96.89 L352.50,98.16 L353.50,99.42 L354.50,100.67 L355.50,101.92 L356.50,103.16 L357.50,104.40 L358.50,105.63 L359.50,106.85 L360.50,108.06 L361.50,109.27 L362.50,110.47 L363.50,111.67 L364.50,112.86 L365.50,114.04 L366.50,115.21 L367.50,116.38 L368.50,117.54 L369.50,118.69 L370.50,119.83 L371.50,120.96 L372.50,122.09 L373.50,123.21 L374.50,124.32 L375.50,125.42 L376.50,126.52 L377.50,127.60 L378.50,128.68 L379.50,129.74 L380.50,130.80 L381.50,131.85 L382.50,132.89 L383.50,133.92 L384.50,134.95 L385.50,135.96 L386.50,136.96 L387.50,137.95 L388.50,138.94 L389.50,139.91 L390.50,140.87 L391.50,141.82 L392.50,142.77 L393.50,143.70 L394.50,144.62 L395.50,145.53 L396.50,146.43 L397.50,147.32 L398.50,148.20 L399.50,149.06 L400.50,149.92 L401.50,150.76 L402.50,151.60 L403.50,152.42 L404.50,153.23 L405.50,154.02 L406.50,154.81 L407.50,155.58 L408.50,156.35 L409.50,157.09 L410.50,157.83 L411.50,158.56 L412.50,159.27 L413.50,159.97 L414.50,160.65 L415.50,161.33 L416.50,161.99 L417.50,162.64 L418.50,163.28 L419.50,163.90 L420.50,164.51 L421.50,165.11 L422.50,165.70 L423.50,166.28 L424.50,166.84 L425.50,167.39 L426.50,167.93 L427.50,168.46 L428.50,168.97 L429.50,169.48 L430.50,169.97 L431.50,170.45 L432.50,170.92 L433.50,171.37 L434.50,171.81 L435.50,172.24 L436.50,172.66 L437.50,173.07 L438.50,173.47 L439.50,173.85 L440.50,174.23 L441.50,174.59 L442.50,174.94 L443.50,175.27 L444.50,175.60 L445.50,175.91 L446.50,176.22 L447.50,176.51 L448.50,176.79 L449.50,177.06 L450.50,177.31 L451.50,177.56 L452.50,177.79 L453.50,178.01 L454.50,178.23 L455.50,178.43 L456.50,178.62 L457.50,178.79 L458.50,178.96 L459.50,179.12 L460.50,179.27 L461.50,179.41 L462.50,179.54 L463.50,179.66 L464.50,179.78 L465.50,179.88 L466.50,179.98 L467.50,180.07 L468.50,180.16 L469.50,180.24 L470.50,180.31 L471.50,180.38 L472.50,180.44 L473.50,180.49 L474.50,180.54 L475.50,180.59 L476.50,180.63 L477.50,180.67 L478.50,180.71 L479.50,180.74 L480.50,180.77 L481.50,180.79 L482.50,180.82 L483.50,180.84 L484.50,180.86 L485.50,180.88 L486.50,180.90 L487.50,180.92 L488.50,180.94 L489.50,180.96 L490.50,180.98 L491.50,181.00 L492.50,181.03 L493.50,181.05 L494.50,181.07 L495.50,181.10 L496.50,181.12 L497.50,181.15 L498.50,181.15 L499.50,181.15 L500.50,181.15 L501.50,181.15 L502.50,181.15 L503.50,181.15 L504.50,181.15 L505.50,181.15 L506.50,181.15 L507.50,181.15 L508.50,181.15 L509.50,181.15 L510.50,181.15 L511.50,181.15 L512.50,181.15 L513.50,181.15 L514.50,181.15 L515.50,181.15 L516.50,181.15 L517.50,181.15 L518.50,181.15 L519.50,181.15 L520.50,181.15 L521.50,181.15 L522.50,181.15 L523.50,181.15 L524.50,181.15 L525.50,181.15 L526.50,181.15 L527.50,181.15 L528.50,181.15 L529.50,181.15 L530.50,181.15 L531.50,181.15 L532.50,181.15 L533.50,181.15 L534.50,181.15 L535.50,181.15 L536.50,181.15 L537.50,181.15 L538.50,181.15 L539.50,181.15 L540.50,181.15 L541.50,181.15 L542.50,181.15 L543.50,181.15 L544.50,181.15 L545.50,181.15 L546.50,181.15 L547.50,181.15 L548.50,181.15 L549.50,181.15 L550.50,181.15 L551.50,181.15 L552.50,181.15 L553.50,181.15 L554.50,181.15 L555.50,181.15 L556.50,181.15 L557.50,181.15 L558.50,181.15 L559.50,181.15 L560.50,181.15 L561.50,181.15 L562.50,181.15 L563.50,181.15 L564.50,181.15 L565.50,181.15 L566.50,181.15 L567.50,181.15 L568.50,181.15 L569.50,181.15 L570.50,181.15 L571.50,181.15 L572.50,181.15 L573.50,181.15 L574.50,181.15 L575.50,181.15 L576.50,181.15 L577.50,181.15 L578.50,181.15 L579.50,181.15 L580.50,181.15 L581.50,181.15 L582.50,181.15 L583.50,181.15 L584.34,181.15" fill="none" stroke="#d81c1c" stroke-width="1.85" stroke-dasharray="6.8 5.4" stroke-linejoin="round"/>
<path d="M331.50,135.37 L332.50,136.30 L333.50,137.32 L334.50,138.33 L335.50,139.33 L336.50,140.31 L337.50,141.27 L338.50,142.22 L339.50,143.16 L340.50,144.09 L341.50,144.99 L342.50,145.89 L343.50,146.77 L344.50,147.64 L345.50,148.50 L346.50,149.34 L347.50,150.16 L348.50,150.98 L349.50,151.78 L350.50,152.57 L351.50,153.34 L352.50,154.11 L353.50,154.86 L354.50,155.59 L355.50,156.32 L356.50,157.03 L357.50,157.73 L358.50,158.42 L359.50,159.09 L360.50,159.75 L361.50,160.40 L362.50,161.04 L363.50,161.67 L364.50,162.28 L365.50,162.89 L366.50,163.48 L367.50,164.06 L368.50,164.63 L369.50,165.18 L370.50,165.73 L371.50,166.27 L372.50,166.79 L373.50,167.30 L374.50,167.81 L375.50,168.30 L376.50,168.78 L377.50,169.25 L378.50,169.71 L379.50,170.16 L380.50,170.60 L381.50,171.03 L382.50,171.45 L383.50,171.85 L384.50,172.25 L385.50,172.64 L386.50,173.02 L387.50,173.39 L388.50,173.75 L389.50,174.10 L390.50,174.44 L391.50,174.78 L392.50,175.10 L393.50,175.41 L394.50,175.72 L395.50,176.02 L396.50,176.30 L397.50,176.58 L398.50,176.85 L399.50,177.11 L400.50,177.37 L401.50,177.61 L402.50,177.85 L403.50,178.08 L404.50,178.30 L405.50,178.51 L406.50,178.72 L407.50,178.91 L408.50,179.10 L409.50,179.29 L410.50,179.46 L411.50,179.63 L412.50,179.79 L413.50,179.94 L414.50,180.08 L415.50,180.22 L416.50,180.35 L417.50,180.48 L418.50,180.60 L419.50,180.71 L420.50,180.81 L421.50,180.91 L422.50,181.00 L423.50,181.09 L424.50,181.15 L425.50,181.15 L426.50,181.15 L427.50,181.15 L428.50,181.15 L429.50,181.15 L430.50,181.15 L431.50,181.15 L432.50,181.15 L433.50,181.15 L434.50,181.15 L435.50,181.15 L436.50,181.15 L437.50,181.15 L438.50,181.15 L439.50,181.15 L440.50,181.15 L441.50,181.15 L442.50,181.15 L443.50,181.15 L444.50,181.15 L445.50,181.15 L446.50,181.15 L447.50,181.15 L448.50,181.15 L449.50,181.15 L450.50,181.15 L451.50,181.15 L452.50,181.15 L453.50,181.15 L454.50,181.15 L455.50,181.15 L456.50,181.15 L457.50,181.15 L458.50,181.15 L459.50,181.15 L460.50,181.15 L461.50,181.15 L462.50,181.15 L463.50,181.15 L464.50,181.15 L465.50,181.15 L466.50,181.15 L467.50,181.15 L468.50,181.15 L469.50,181.15 L470.50,181.15 L471.50,181.15 L472.50,181.15 L473.50,181.15 L474.50,181.15 L475.50,181.15 L476.50,181.15 L477.50,181.15 L478.50,181.15 L479.50,181.15 L480.50,181.15 L481.50,181.15 L482.50,181.15 L483.50,181.15 L484.50,181.15 L485.50,181.15 L486.50,181.15 L487.50,181.15 L488.50,181.15 L489.50,181.15 L490.50,181.15 L491.50,181.15 L492.50,181.15 L493.50,181.15 L494.50,181.15 L495.50,181.15 L496.50,181.15 L497.50,181.15 L498.50,181.15 L499.50,181.15 L500.50,181.15 L501.50,181.15 L502.50,181.15 L503.50,181.15 L504.50,181.15 L505.50,181.15 L506.50,181.15 L507.50,181.15 L508.50,181.15 L509.50,181.15 L510.50,181.15 L511.50,181.15 L512.50,181.15 L513.50,181.15 L514.50,181.15 L515.50,181.15 L516.50,181.15 L517.50,181.15 L518.50,181.15 L519.50,181.15 L520.50,181.15 L521.50,181.15 L522.50,181.15 L523.50,181.15 L524.50,181.15 L525.50,181.15 L526.50,181.15 L527.50,181.15 L528.50,181.15 L529.50,181.15 L530.50,181.15 L531.50,181.15 L532.50,181.15 L533.50,181.15 L534.50,181.15 L535.50,181.15 L536.50,181.15 L537.50,181.15 L538.50,181.15 L539.50,181.15 L540.50,181.15 L541.50,181.15 L542.50,181.15 L543.50,181.15 L544.50,181.15 L545.50,181.15 L546.50,181.15 L547.50,181.15 L548.50,181.15 L549.50,181.15 L550.50,181.15 L551.50,181.15 L552.50,181.15 L553.50,181.15 L554.50,181.15 L555.50,181.15 L556.50,181.15 L557.50,181.15 L558.50,181.15 L559.50,181.15 L560.50,181.15 L561.50,181.15 L562.50,181.15 L563.50,181.15 L564.50,181.15 L565.50,181.15 L566.50,181.15 L567.50,181.15 L568.50,181.15 L569.50,181.15 L570.50,181.15 L571.50,181.15 L572.50,181.15 L573.50,181.15 L574.50,181.15 L575.50,181.15 L576.50,181.15 L577.50,181.15 L578.50,181.15 L579.50,181.15 L580.50,181.15 L581.50,181.15 L582.50,181.15 L583.50,181.15 L584.34,181.15" fill="none" stroke="#000000" stroke-width="1.85" stroke-linejoin="round"/>
<path d="M331.50,134.53 L332.50,135.36 L333.50,136.29 L334.50,137.23 L335.50,138.17 L336.50,139.13 L337.50,140.08 L338.50,141.04 L339.50,142.01 L340.50,142.96 L341.50,143.92 L342.50,144.86 L343.50,145.80 L344.50,146.73 L345.50,147.64 L346.50,148.55 L347.50,149.43 L348.50,150.30 L349.50,151.16 L350.50,152.00 L351.50,152.83 L352.50,153.65 L353.50,154.45 L354.50,155.23 L355.50,156.01 L356.50,156.76 L357.50,157.51 L358.50,158.24 L359.50,158.96 L360.50,159.66 L361.50,160.36 L362.50,161.03 L363.50,161.70 L364.50,162.35 L365.50,162.99 L366.50,163.61 L367.50,164.23 L368.50,164.83 L369.50,165.41 L370.50,165.99 L371.50,166.55 L372.50,167.10 L373.50,167.64 L374.50,168.16 L375.50,168.68 L376.50,169.18 L377.50,169.67 L378.50,170.14 L379.50,170.61 L380.50,171.06 L381.50,171.51 L382.50,171.94 L383.50,172.36 L384.50,172.77 L385.50,173.17 L386.50,173.56 L387.50,173.93 L388.50,174.30 L389.50,174.66 L390.50,175.00 L391.50,175.34 L392.50,175.66 L393.50,175.98 L394.50,176.28 L395.50,176.58 L396.50,176.86 L397.50,177.14 L398.50,177.40 L399.50,177.66 L400.50,177.91 L401.50,178.14 L402.50,178.37 L403.50,178.59 L404.50,178.80 L405.50,179.01 L406.50,179.20 L407.50,179.39 L408.50,179.56 L409.50,179.73 L410.50,179.89 L411.50,180.04 L412.50,180.19 L413.50,180.32 L414.50,180.45 L415.50,180.57 L416.50,180.68 L417.50,180.79 L418.50,180.89 L419.50,180.98 L420.50,181.06 L421.50,181.14 L422.50,181.15 L423.50,181.15 L424.50,181.15 L425.50,181.15 L426.50,181.15 L427.50,181.15 L428.50,181.15 L429.50,181.15 L430.50,181.15 L431.50,181.15 L432.50,181.15 L433.50,181.15 L434.50,181.15 L435.50,181.15 L436.50,181.15 L437.50,181.15 L438.50,181.15 L439.50,181.15 L440.50,181.15 L441.50,181.15 L442.50,181.15 L443.50,181.15 L444.50,181.15 L445.50,181.15 L446.50,181.15 L447.50,181.15 L448.50,181.15 L449.50,181.15 L450.50,181.15 L451.50,181.15 L452.50,181.15 L453.50,181.15 L454.50,181.15 L455.50,181.15 L456.50,181.15 L457.50,181.15 L458.50,181.15 L459.50,181.15 L460.50,181.15 L461.50,181.15 L462.50,181.15 L463.50,181.15 L464.50,181.15 L465.50,181.15 L466.50,181.15 L467.50,181.15 L468.50,181.15 L469.50,181.15 L470.50,181.15 L471.50,181.15 L472.50,181.15 L473.50,181.15 L474.50,181.15 L475.50,181.15 L476.50,181.15 L477.50,181.15 L478.50,181.15 L479.50,181.15 L480.50,181.15 L481.50,181.15 L482.50,181.15 L483.50,181.15 L484.50,181.15 L485.50,181.15 L486.50,181.15 L487.50,181.15 L488.50,181.15 L489.50,181.15 L490.50,181.15 L491.50,181.15 L492.50,181.15 L493.50,181.15 L494.50,181.15 L495.50,181.15 L496.50,181.15 L497.50,181.15 L498.50,181.15 L499.50,181.15 L500.50,181.15 L501.50,181.15 L502.50,181.15 L503.50,181.15 L504.50,181.15 L505.50,181.15 L506.50,181.15 L507.50,181.15 L508.50,181.15 L509.50,181.15 L510.50,181.15 L511.50,181.15 L512.50,181.15 L513.50,181.15 L514.50,181.15 L515.50,181.15 L516.50,181.15 L517.50,181.15 L518.50,181.15 L519.50,181.15 L520.50,181.15 L521.50,181.15 L522.50,181.15 L523.50,181.15 L524.50,181.15 L525.50,181.15 L526.50,181.15 L527.50,181.15 L528.50,181.15 L529.50,181.15 L530.50,181.15 L531.50,181.15 L532.50,181.15 L533.50,181.15 L534.50,181.15 L535.50,181.15 L536.50,181.15 L537.50,181.15 L538.50,181.15 L539.50,181.15 L540.50,181.15 L541.50,181.15 L542.50,181.15 L543.50,181.15 L544.50,181.15 L545.50,181.15 L546.50,181.15 L547.50,181.15 L548.50,181.15 L549.50,181.15 L550.50,181.15 L551.50,181.15 L552.50,181.15 L553.50,181.15 L554.50,181.15 L555.50,181.15 L556.50,181.15 L557.50,181.15 L558.50,181.15 L559.50,181.15 L560.50,181.15 L561.50,181.15 L562.50,181.15 L563.50,181.15 L564.50,181.15 L565.50,181.15 L566.50,181.15 L567.50,181.15 L568.50,181.15 L569.50,181.15 L570.50,181.15 L571.50,181.15 L572.50,181.15 L573.50,181.15 L574.50,181.15 L575.50,181.15 L576.50,181.15 L577.50,181.15 L578.50,181.15 L579.50,181.15 L580.50,181.15 L581.50,181.15 L582.50,181.15 L583.50,181.15 L584.34,181.15" fill="none" stroke="#000000" stroke-width="1.85" stroke-dasharray="6.8 5.4" stroke-linejoin="round"/>
<text x="329.0" y="185.45" text-anchor="end" class="t">0</text>
<text x="329.0" y="159.72" text-anchor="end" class="t">0.1</text>
<text x="329.0" y="134.00" text-anchor="end" class="t">0.2</text>
<text x="329.0" y="108.28" text-anchor="end" class="t">0.3</text>
<text x="329.0" y="82.55" text-anchor="end" class="t">0.4</text>
<text x="329.0" y="56.83" text-anchor="end" class="t">0.5</text>
<text x="329.0" y="31.10" text-anchor="end" class="t">0.6</text>
<text x="332.00" y="196.25" text-anchor="middle" class="t">10<tspan dy="-6.4" class="sup">10</tspan></text>
<text x="383.60" y="196.25" text-anchor="middle" class="t">10<tspan dy="-6.4" class="sup">11</tspan></text>
<text x="435.20" y="196.25" text-anchor="middle" class="t">10<tspan dy="-6.4" class="sup">12</tspan></text>
<text x="486.80" y="196.25" text-anchor="middle" class="t">10<tspan dy="-6.4" class="sup">13</tspan></text>
<text x="538.40" y="196.25" text-anchor="middle" class="t">10<tspan dy="-6.4" class="sup">14</tspan></text>
<text x="590.00" y="196.25" text-anchor="middle" class="t">10<tspan dy="-6.4" class="sup">15</tspan></text>
<text x="411.00" y="206.15" class="t" style="font-size:10.75px">Halo Mass at z=0 [M</text>
<circle cx="505.10" cy="208.45" r="2.15" fill="none" stroke="#000" stroke-width="0.8"/><circle cx="505.10" cy="208.45" r="0.6" fill="#000"/>
<text x="508.90" y="206.15" class="t" style="font-size:10.75px">]</text>
<text transform="translate(313.0,91.62) rotate(-90)" text-anchor="middle" class="t">Hostless Fraction</text>
<path d="M463.7,21.50H484.3" stroke="#1515c4" stroke-width="1.85"/>
<text x="487.5" y="24.80" class="t" style="font-size:10.8px">&lt;v&gt; = 180 km/s; est.</text>
<path d="M463.7,32.95H484.3" stroke="#1515c4" stroke-width="1.85" stroke-dasharray="7.5 5.5"/>
<text x="487.5" y="36.25" class="t" style="font-size:10.8px">&lt;v&gt; = 180 km/s; sim.</text>
<path d="M463.7,44.40H484.3" stroke="#d81c1c" stroke-width="1.85"/>
<text x="487.5" y="47.70" class="t" style="font-size:10.8px">&lt;v&gt; = 90 km/s; est.</text>
<path d="M463.7,55.85H484.3" stroke="#d81c1c" stroke-width="1.85" stroke-dasharray="7.5 5.5"/>
<text x="487.5" y="59.15" class="t" style="font-size:10.8px">&lt;v&gt; = 90 km/s; sim.</text>
<path d="M463.7,67.30H484.3" stroke="#000000" stroke-width="1.85"/>
<text x="487.5" y="70.60" class="t" style="font-size:10.8px">&lt;v&gt; = 45 km/s; est.</text>
<path d="M463.7,78.75H484.3" stroke="#000000" stroke-width="1.85" stroke-dasharray="7.5 5.5"/>
<text x="487.5" y="82.05" class="t" style="font-size:10.8px">&lt;v&gt; = 45 km/s; sim.</text>
<text x="506.3" y="157.2" class="t">r<tspan dy="3.8" class="sub">thresh</tspan><tspan dy="-3.8"> = 10 R</tspan><tspan dy="3.8" class="sub">e</tspan></text>
<rect x="197.5" y="221.3" width="258.0" height="180.0" fill="none" stroke="#707070" stroke-width="1"/>
<path d="M197.5,386.98h3M455.5,386.98h-3M197.5,372.65h5M455.5,372.65h-5M197.5,358.32h3M455.5,358.32h-3M197.5,344.00h5M455.5,344.00h-5M197.5,329.68h3M455.5,329.68h-3M197.5,315.35h5M455.5,315.35h-5M197.5,301.02h3M455.5,301.02h-3M197.5,286.70h5M455.5,286.70h-5M197.5,272.38h3M455.5,272.38h-3M197.5,258.05h5M455.5,258.05h-5M197.5,243.72h3M455.5,243.72h-3M197.5,229.40h5M455.5,229.40h-5M213.03,401.3v-3M213.03,221.3v3M222.12,401.3v-3M222.12,221.3v3M228.57,401.3v-3M228.57,221.3v3M233.57,401.3v-3M233.57,221.3v3M237.65,401.3v-3M237.65,221.3v3M241.11,401.3v-3M241.11,221.3v3M244.10,401.3v-3M244.10,221.3v3M246.74,401.3v-3M246.74,221.3v3M249.10,401.3v-5M249.10,221.3v5M264.63,401.3v-3M264.63,221.3v3M273.72,401.3v-3M273.72,221.3v3M280.17,401.3v-3M280.17,221.3v3M285.17,401.3v-3M285.17,221.3v3M289.25,401.3v-3M289.25,221.3v3M292.71,401.3v-3M292.71,221.3v3M295.70,401.3v-3M295.70,221.3v3M298.34,401.3v-3M298.34,221.3v3M300.70,401.3v-5M300.70,221.3v5M316.23,401.3v-3M316.23,221.3v3M325.32,401.3v-3M325.32,221.3v3M331.77,401.3v-3M331.77,221.3v3M336.77,401.3v-3M336.77,221.3v3M340.85,401.3v-3M340.85,221.3v3M344.31,401.3v-3M344.31,221.3v3M347.30,401.3v-3M347.30,221.3v3M349.94,401.3v-3M349.94,221.3v3M352.30,401.3v-5M352.30,221.3v5M367.83,401.3v-3M367.83,221.3v3M376.92,401.3v-3M376.92,221.3v3M383.37,401.3v-3M383.37,221.3v3M388.37,401.3v-3M388.37,221.3v3M392.45,401.3v-3M392.45,221.3v3M395.91,401.3v-3M395.91,221.3v3M398.90,401.3v-3M398.90,221.3v3M401.54,401.3v-3M401.54,221.3v3M403.90,401.3v-5M403.90,221.3v5M419.43,401.3v-3M419.43,221.3v3M428.52,401.3v-3M428.52,221.3v3M434.97,401.3v-3M434.97,221.3v3M439.97,401.3v-3M439.97,221.3v3M444.05,401.3v-3M444.05,221.3v3M447.51,401.3v-3M447.51,221.3v3M450.50,401.3v-3M450.50,221.3v3M453.14,401.3v-3M453.14,221.3v3" stroke="#707070" stroke-width="1" fill="none"/>
<path d="M197.50,224.76 L198.50,225.78 L199.50,226.82 L200.50,227.86 L201.50,228.92 L202.50,230.00 L203.50,231.08 L204.50,232.18 L205.50,233.29 L206.50,234.41 L207.50,235.54 L208.50,236.69 L209.50,237.84 L210.50,239.00 L211.50,240.18 L212.50,241.36 L213.50,242.55 L214.50,243.76 L215.50,244.97 L216.50,246.19 L217.50,247.42 L218.50,248.66 L219.50,249.90 L220.50,251.16 L221.50,252.42 L222.50,253.68 L223.50,254.96 L224.50,256.24 L225.50,257.53 L226.50,258.83 L227.50,260.13 L228.50,261.44 L229.50,262.75 L230.50,264.07 L231.50,265.39 L232.50,266.72 L233.50,268.05 L234.50,269.39 L235.50,270.73 L236.50,272.07 L237.50,273.42 L238.50,274.77 L239.50,276.13 L240.50,277.48 L241.50,278.84 L242.50,280.21 L243.50,281.57 L244.50,282.93 L245.50,284.30 L246.50,285.67 L247.50,287.04 L248.50,288.41 L249.50,289.78 L250.50,291.15 L251.50,292.52 L252.50,293.89 L253.50,295.26 L254.50,296.63 L255.50,298.00 L256.50,299.36 L257.50,300.73 L258.50,302.09 L259.50,303.45 L260.50,304.81 L261.50,306.17 L262.50,307.52 L263.50,308.87 L264.50,310.22 L265.50,311.56 L266.50,312.90 L267.50,314.23 L268.50,315.56 L269.50,316.89 L270.50,318.21 L271.50,319.53 L272.50,320.84 L273.50,322.14 L274.50,323.44 L275.50,324.73 L276.50,326.02 L277.50,327.30 L278.50,328.57 L279.50,329.84 L280.50,331.10 L281.50,332.35 L282.50,333.59 L283.50,334.83 L284.50,336.05 L285.50,337.27 L286.50,338.48 L287.50,339.68 L288.50,340.87 L289.50,342.05 L290.50,343.22 L291.50,344.38 L292.50,345.53 L293.50,346.67 L294.50,347.80 L295.50,348.91 L296.50,350.02 L297.50,351.11 L298.50,352.20 L299.50,353.27 L300.50,354.33 L301.50,355.37 L302.50,356.41 L303.50,357.43 L304.50,358.45 L305.50,359.45 L306.50,360.44 L307.50,361.41 L308.50,362.38 L309.50,363.33 L310.50,364.27 L311.50,365.20 L312.50,366.12 L313.50,367.02 L314.50,367.91 L315.50,368.79 L316.50,369.66 L317.50,370.52 L318.50,371.36 L319.50,372.19 L320.50,373.01 L321.50,373.81 L322.50,374.60 L323.50,375.38 L324.50,376.15 L325.50,376.90 L326.50,377.64 L327.50,378.37 L328.50,379.08 L329.50,379.79 L330.50,380.47 L331.50,381.15 L332.50,381.81 L333.50,382.46 L334.50,383.10 L335.50,383.72 L336.50,384.33 L337.50,384.92 L338.50,385.50 L339.50,386.07 L340.50,386.63 L341.50,387.17 L342.50,387.70 L343.50,388.21 L344.50,388.71 L345.50,389.20 L346.50,389.68 L347.50,390.14 L348.50,390.59 L349.50,391.03 L350.50,391.45 L351.50,391.87 L352.50,392.27 L353.50,392.66 L354.50,393.04 L355.50,393.41 L356.50,393.77 L357.50,394.11 L358.50,394.45 L359.50,394.77 L360.50,395.09 L361.50,395.39 L362.50,395.69 L363.50,395.97 L364.50,396.24 L365.50,396.51 L366.50,396.76 L367.50,397.01 L368.50,397.24 L369.50,397.47 L370.50,397.69 L371.50,397.90 L372.50,398.10 L373.50,398.29 L374.50,398.48 L375.50,398.66 L376.50,398.82 L377.50,398.99 L378.50,399.14 L379.50,399.29 L380.50,399.42 L381.50,399.56 L382.50,399.68 L383.50,399.80 L384.50,399.91 L385.50,400.02 L386.50,400.12 L387.50,400.21 L388.50,400.30 L389.50,400.38 L390.50,400.45 L391.50,400.52 L392.50,400.59 L393.50,400.65 L394.50,400.70 L395.50,400.75 L396.50,400.80 L397.50,400.84 L398.50,400.85 L399.50,400.85 L400.50,400.85 L401.50,400.85 L402.50,400.85 L403.50,400.85 L404.50,400.85 L405.50,400.85 L406.50,400.85 L407.50,400.85 L408.50,400.85 L409.50,400.85 L410.50,400.85 L411.50,400.85 L412.50,400.85 L413.50,400.85 L414.50,400.85 L415.50,400.85 L416.50,400.85 L417.50,400.85 L418.50,400.85 L419.50,400.85 L420.50,400.85 L421.50,400.85 L422.50,400.85 L423.50,400.85 L424.50,400.85 L425.50,400.85 L426.50,400.85 L427.50,400.85 L428.50,400.85 L429.50,400.85 L430.50,400.85 L431.50,400.85 L432.50,400.85 L433.50,400.85 L434.50,400.85 L435.50,400.85 L436.50,400.85 L437.50,400.85 L438.50,400.85 L439.50,400.85 L440.50,400.85 L441.50,400.85 L442.50,400.85 L443.50,400.85 L444.50,400.85 L445.50,400.85 L446.50,400.85 L447.50,400.85 L448.50,400.85 L449.50,400.85 L450.34,400.85" fill="none" stroke="#1515c4" stroke-width="1.85" stroke-linejoin="round"/>
<path d="M197.50,221.38 L198.50,221.63 L199.50,222.13 L200.50,222.89 L201.50,223.94 L202.50,225.31 L203.50,226.99 L204.50,228.85 L205.50,230.64 L206.50,232.25 L207.50,233.70 L208.50,235.00 L209.50,236.18 L210.50,237.27 L211.50,238.27 L212.50,239.23 L213.50,240.15 L214.50,241.06 L215.50,241.99 L216.50,242.96 L217.50,243.98 L218.50,245.09 L219.50,246.28 L220.50,247.55 L221.50,248.87 L222.50,250.25 L223.50,251.66 L224.50,253.09 L225.50,254.54 L226.50,255.98 L227.50,257.40 L228.50,258.80 L229.50,260.15 L230.50,261.46 L231.50,262.74 L232.50,263.98 L233.50,265.19 L234.50,266.39 L235.50,267.58 L236.50,268.76 L237.50,269.95 L238.50,271.15 L239.50,272.37 L240.50,273.61 L241.50,274.86 L242.50,276.13 L243.50,277.42 L244.50,278.72 L245.50,280.04 L246.50,281.36 L247.50,282.70 L248.50,284.05 L249.50,285.40 L250.50,286.76 L251.50,288.13 L252.50,289.50 L253.50,290.87 L254.50,292.24 L255.50,293.62 L256.50,294.99 L257.50,296.37 L258.50,297.75 L259.50,299.13 L260.50,300.52 L261.50,301.90 L262.50,303.28 L263.50,304.67 L264.50,306.06 L265.50,307.45 L266.50,308.83 L267.50,310.22 L268.50,311.62 L269.50,313.01 L270.50,314.40 L271.50,315.79 L272.50,317.19 L273.50,318.58 L274.50,319.98 L275.50,321.38 L276.50,322.77 L277.50,324.17 L278.50,325.57 L279.50,326.97 L280.50,328.36 L281.50,329.75 L282.50,331.14 L283.50,332.52 L284.50,333.90 L285.50,335.27 L286.50,336.64 L287.50,338.00 L288.50,339.35 L289.50,340.68 L290.50,342.01 L291.50,343.33 L292.50,344.63 L293.50,345.93 L294.50,347.20 L295.50,348.47 L296.50,349.71 L297.50,350.94 L298.50,352.16 L299.50,353.35 L300.50,354.53 L301.50,355.68 L302.50,356.82 L303.50,357.93 L304.50,359.02 L305.50,360.09 L306.50,361.13 L307.50,362.15 L308.50,363.14 L309.50,364.11 L310.50,365.06 L311.50,365.98 L312.50,366.88 L313.50,367.76 L314.50,368.62 L315.50,369.46 L316.50,370.29 L317.50,371.09 L318.50,371.87 L319.50,372.64 L320.50,373.39 L321.50,374.13 L322.50,374.85 L323.50,375.56 L324.50,376.25 L325.50,376.93 L326.50,377.60 L327.50,378.26 L328.50,378.91 L329.50,379.54 L330.50,380.17 L331.50,380.79 L332.50,381.40 L333.50,382.00 L334.50,382.59 L335.50,383.18 L336.50,383.75 L337.50,384.31 L338.50,384.87 L339.50,385.41 L340.50,385.95 L341.50,386.48 L342.50,387.00 L343.50,387.51 L344.50,388.00 L345.50,388.50 L346.50,388.98 L347.50,389.45 L348.50,389.91 L349.50,390.36 L350.50,390.80 L351.50,391.24 L352.50,391.66 L353.50,392.08 L354.50,392.48 L355.50,392.87 L356.50,393.26 L357.50,393.63 L358.50,394.00 L359.50,394.36 L360.50,394.70 L361.50,395.04 L362.50,395.36 L363.50,395.68 L364.50,395.99 L365.50,396.28 L366.50,396.57 L367.50,396.85 L368.50,397.11 L369.50,397.37 L370.50,397.61 L371.50,397.85 L372.50,398.08 L373.50,398.29 L374.50,398.50 L375.50,398.69 L376.50,398.88 L377.50,399.05 L378.50,399.22 L379.50,399.37 L380.50,399.52 L381.50,399.65 L382.50,399.78 L383.50,399.90 L384.50,400.01 L385.50,400.11 L386.50,400.20 L387.50,400.29 L388.50,400.37 L389.50,400.44 L390.50,400.51 L391.50,400.56 L392.50,400.62 L393.50,400.66 L394.50,400.70 L395.50,400.73 L396.50,400.76 L397.50,400.79 L398.50,400.80 L399.50,400.82 L400.50,400.83 L401.50,400.83 L402.50,400.83 L403.50,400.83 L404.50,400.83 L405.50,400.83 L406.50,400.83 L407.50,400.83 L408.50,400.83 L409.50,400.83 L410.50,400.83 L411.50,400.83 L412.50,400.83 L413.50,400.83 L414.50,400.83 L415.50,400.83 L416.50,400.83 L417.50,400.83 L418.50,400.83 L419.50,400.83 L420.50,400.83 L421.50,400.83 L422.50,400.83 L423.50,400.83 L424.50,400.83 L425.50,400.83 L426.50,400.83 L427.50,400.83 L428.50,400.83 L429.50,400.83 L430.50,400.83 L431.50,400.83 L432.50,400.83 L433.50,400.83 L434.50,400.83 L435.50,400.83 L436.50,400.83 L437.50,400.83 L438.50,400.83 L439.50,400.83 L440.50,400.83 L441.50,400.83 L442.50,400.83 L443.50,400.83 L444.50,400.83 L445.50,400.83 L446.50,400.83 L447.50,400.85 L448.50,400.85 L449.50,400.85 L450.34,400.85" fill="none" stroke="#1515c4" stroke-width="1.85" stroke-dasharray="6.8 5.4" stroke-linejoin="round"/>
<path d="M197.50,291.92 L198.50,293.35 L199.50,294.77 L200.50,296.19 L201.50,297.60 L202.50,299.01 L203.50,300.42 L204.50,301.82 L205.50,303.22 L206.50,304.61 L207.50,306.00 L208.50,307.38 L209.50,308.76 L210.50,310.14 L211.50,311.50 L212.50,312.87 L213.50,314.22 L214.50,315.57 L215.50,316.92 L216.50,318.26 L217.50,319.59 L218.50,320.92 L219.50,322.24 L220.50,323.55 L221.50,324.85 L222.50,326.15 L223.50,327.44 L224.50,328.73 L225.50,330.00 L226.50,331.27 L227.50,332.53 L228.50,333.78 L229.50,335.02 L230.50,336.26 L231.50,337.49 L232.50,338.70 L233.50,339.91 L234.50,341.11 L235.50,342.30 L236.50,343.48 L237.50,344.65 L238.50,345.81 L239.50,346.96 L240.50,348.11 L241.50,349.24 L242.50,350.36 L243.50,351.47 L244.50,352.57 L245.50,353.65 L246.50,354.73 L247.50,355.80 L248.50,356.85 L249.50,357.89 L250.50,358.92 L251.50,359.94 L252.50,360.95 L253.50,361.94 L254.50,362.93 L255.50,363.89 L256.50,364.85 L257.50,365.80 L258.50,366.73 L259.50,367.64 L260.50,368.55 L261.50,369.44 L262.50,370.32 L263.50,371.18 L264.50,372.03 L265.50,372.86 L266.50,373.68 L267.50,374.49 L268.50,375.28 L269.50,376.06 L270.50,376.82 L271.50,377.56 L272.50,378.30 L273.50,379.02 L274.50,379.72 L275.50,380.41 L276.50,381.09 L277.50,381.75 L278.50,382.40 L279.50,383.04 L280.50,383.66 L281.50,384.27 L282.50,384.87 L283.50,385.45 L284.50,386.02 L285.50,386.58 L286.50,387.12 L287.50,387.66 L288.50,388.18 L289.50,388.68 L290.50,389.18 L291.50,389.66 L292.50,390.14 L293.50,390.60 L294.50,391.05 L295.50,391.48 L296.50,391.91 L297.50,392.32 L298.50,392.73 L299.50,393.12 L300.50,393.50 L301.50,393.88 L302.50,394.24 L303.50,394.59 L304.50,394.93 L305.50,395.26 L306.50,395.58 L307.50,395.89 L308.50,396.19 L309.50,396.48 L310.50,396.76 L311.50,397.03 L312.50,397.29 L313.50,397.54 L314.50,397.79 L315.50,398.02 L316.50,398.25 L317.50,398.47 L318.50,398.67 L319.50,398.88 L320.50,399.07 L321.50,399.25 L322.50,399.43 L323.50,399.59 L324.50,399.75 L325.50,399.91 L326.50,400.05 L327.50,400.19 L328.50,400.32 L329.50,400.44 L330.50,400.56 L331.50,400.67 L332.50,400.77 L333.50,400.85 L334.50,400.85 L335.50,400.85 L336.50,400.85 L337.50,400.85 L338.50,400.85 L339.50,400.85 L340.50,400.85 L341.50,400.85 L342.50,400.85 L343.50,400.85 L344.50,400.85 L345.50,400.85 L346.50,400.85 L347.50,400.85 L348.50,400.85 L349.50,400.85 L350.50,400.85 L351.50,400.85 L352.50,400.85 L353.50,400.85 L354.50,400.85 L355.50,400.85 L356.50,400.85 L357.50,400.85 L358.50,400.85 L359.50,400.85 L360.50,400.85 L361.50,400.85 L362.50,400.85 L363.50,400.85 L364.50,400.85 L365.50,400.85 L366.50,400.85 L367.50,400.85 L368.50,400.85 L369.50,400.85 L370.50,400.85 L371.50,400.85 L372.50,400.85 L373.50,400.85 L374.50,400.85 L375.50,400.85 L376.50,400.85 L377.50,400.85 L378.50,400.85 L379.50,400.85 L380.50,400.85 L381.50,400.85 L382.50,400.85 L383.50,400.85 L384.50,400.85 L385.50,400.85 L386.50,400.85 L387.50,400.85 L388.50,400.85 L389.50,400.85 L390.50,400.85 L391.50,400.85 L392.50,400.85 L393.50,400.85 L394.50,400.85 L395.50,400.85 L396.50,400.85 L397.50,400.85 L398.50,400.85 L399.50,400.85 L400.50,400.85 L401.50,400.85 L402.50,400.85 L403.50,400.85 L404.50,400.85 L405.50,400.85 L406.50,400.85 L407.50,400.85 L408.50,400.85 L409.50,400.85 L410.50,400.85 L411.50,400.85 L412.50,400.85 L413.50,400.85 L414.50,400.85 L415.50,400.85 L416.50,400.85 L417.50,400.85 L418.50,400.85 L419.50,400.85 L420.50,400.85 L421.50,400.85 L422.50,400.85 L423.50,400.85 L424.50,400.85 L425.50,400.85 L426.50,400.85 L427.50,400.85 L428.50,400.85 L429.50,400.85 L430.50,400.85 L431.50,400.85 L432.50,400.85 L433.50,400.85 L434.50,400.85 L435.50,400.85 L436.50,400.85 L437.50,400.85 L438.50,400.85 L439.50,400.85 L440.50,400.85 L441.50,400.85 L442.50,400.85 L443.50,400.85 L444.50,400.85 L445.50,400.85 L446.50,400.85 L447.50,400.85 L448.50,400.85 L449.50,400.85 L450.34,400.85" fill="none" stroke="#d81c1c" stroke-width="1.85" stroke-linejoin="round"/>
<path d="M197.50,287.35 L198.50,288.32 L199.50,289.15 L200.50,290.03 L201.50,291.17 L202.50,292.77 L203.50,294.91 L204.50,297.20 L205.50,299.17 L206.50,300.78 L207.50,302.15 L208.50,303.42 L209.50,304.70 L210.50,306.02 L211.50,307.37 L212.50,308.75 L213.50,310.16 L214.50,311.59 L215.50,313.04 L216.50,314.49 L217.50,315.96 L218.50,317.43 L219.50,318.89 L220.50,320.35 L221.50,321.80 L222.50,323.23 L223.50,324.63 L224.50,326.01 L225.50,327.34 L226.50,328.64 L227.50,329.89 L228.50,331.09 L229.50,332.23 L230.50,333.31 L231.50,334.33 L232.50,335.32 L233.50,336.29 L234.50,337.27 L235.50,338.28 L236.50,339.34 L237.50,340.48 L238.50,341.70 L239.50,343.03 L240.50,344.42 L241.50,345.83 L242.50,347.21 L243.50,348.55 L244.50,349.87 L245.50,351.16 L246.50,352.43 L247.50,353.66 L248.50,354.87 L249.50,356.06 L250.50,357.22 L251.50,358.35 L252.50,359.46 L253.50,360.55 L254.50,361.61 L255.50,362.65 L256.50,363.67 L257.50,364.67 L258.50,365.65 L259.50,366.60 L260.50,367.54 L261.50,368.46 L262.50,369.36 L263.50,370.24 L264.50,371.11 L265.50,371.95 L266.50,372.79 L267.50,373.60 L268.50,374.41 L269.50,375.19 L270.50,375.97 L271.50,376.73 L272.50,377.47 L273.50,378.20 L274.50,378.92 L275.50,379.62 L276.50,380.31 L277.50,380.98 L278.50,381.65 L279.50,382.29 L280.50,382.93 L281.50,383.55 L282.50,384.16 L283.50,384.75 L284.50,385.34 L285.50,385.91 L286.50,386.46 L287.50,387.01 L288.50,387.54 L289.50,388.06 L290.50,388.57 L291.50,389.07 L292.50,389.55 L293.50,390.02 L294.50,390.48 L295.50,390.93 L296.50,391.37 L297.50,391.80 L298.50,392.21 L299.50,392.61 L300.50,393.01 L301.50,393.39 L302.50,393.76 L303.50,394.12 L304.50,394.47 L305.50,394.81 L306.50,395.14 L307.50,395.46 L308.50,395.77 L309.50,396.07 L310.50,396.36 L311.50,396.64 L312.50,396.91 L313.50,397.17 L314.50,397.42 L315.50,397.67 L316.50,397.90 L317.50,398.13 L318.50,398.34 L319.50,398.55 L320.50,398.75 L321.50,398.94 L322.50,399.13 L323.50,399.30 L324.50,399.47 L325.50,399.63 L326.50,399.78 L327.50,399.92 L328.50,400.06 L329.50,400.19 L330.50,400.31 L331.50,400.43 L332.50,400.53 L333.50,400.64 L334.50,400.73 L335.50,400.82 L336.50,400.85 L337.50,400.85 L338.50,400.85 L339.50,400.85 L340.50,400.85 L341.50,400.85 L342.50,400.85 L343.50,400.85 L344.50,400.85 L345.50,400.85 L346.50,400.85 L347.50,400.85 L348.50,400.85 L349.50,400.85 L350.50,400.85 L351.50,400.85 L352.50,400.85 L353.50,400.85 L354.50,400.85 L355.50,400.85 L356.50,400.85 L357.50,400.85 L358.50,400.85 L359.50,400.85 L360.50,400.85 L361.50,400.85 L362.50,400.85 L363.50,400.85 L364.50,400.85 L365.50,400.85 L366.50,400.85 L367.50,400.85 L368.50,400.85 L369.50,400.85 L370.50,400.85 L371.50,400.85 L372.50,400.85 L373.50,400.85 L374.50,400.85 L375.50,400.85 L376.50,400.85 L377.50,400.85 L378.50,400.85 L379.50,400.85 L380.50,400.85 L381.50,400.85 L382.50,400.85 L383.50,400.85 L384.50,400.85 L385.50,400.85 L386.50,400.85 L387.50,400.85 L388.50,400.85 L389.50,400.85 L390.50,400.85 L391.50,400.85 L392.50,400.85 L393.50,400.85 L394.50,400.85 L395.50,400.85 L396.50,400.85 L397.50,400.85 L398.50,400.85 L399.50,400.85 L400.50,400.85 L401.50,400.85 L402.50,400.85 L403.50,400.85 L404.50,400.85 L405.50,400.85 L406.50,400.85 L407.50,400.85 L408.50,400.85 L409.50,400.85 L410.50,400.85 L411.50,400.85 L412.50,400.85 L413.50,400.85 L414.50,400.85 L415.50,400.85 L416.50,400.85 L417.50,400.85 L418.50,400.85 L419.50,400.85 L420.50,400.85 L421.50,400.85 L422.50,400.85 L423.50,400.85 L424.50,400.85 L425.50,400.85 L426.50,400.85 L427.50,400.85 L428.50,400.85 L429.50,400.85 L430.50,400.85 L431.50,400.85 L432.50,400.85 L433.50,400.85 L434.50,400.85 L435.50,400.85 L436.50,400.85 L437.50,400.85 L438.50,400.85 L439.50,400.85 L440.50,400.85 L441.50,400.85 L442.50,400.85 L443.50,400.85 L444.50,400.85 L445.50,400.85 L446.50,400.85 L447.50,400.85 L448.50,400.85 L449.50,400.85 L450.34,400.85" fill="none" stroke="#d81c1c" stroke-width="1.85" stroke-dasharray="6.8 5.4" stroke-linejoin="round"/>
<path d="M197.50,360.31 L198.50,361.31 L199.50,362.28 L200.50,363.25 L201.50,364.20 L202.50,365.14 L203.50,366.06 L204.50,366.96 L205.50,367.85 L206.50,368.73 L207.50,369.59 L208.50,370.44 L209.50,371.27 L210.50,372.09 L211.50,372.90 L212.50,373.69 L213.50,374.47 L214.50,375.24 L215.50,375.99 L216.50,376.73 L217.50,377.45 L218.50,378.16 L219.50,378.86 L220.50,379.55 L221.50,380.22 L222.50,380.88 L223.50,381.53 L224.50,382.16 L225.50,382.78 L226.50,383.39 L227.50,383.99 L228.50,384.58 L229.50,385.15 L230.50,385.71 L231.50,386.26 L232.50,386.80 L233.50,387.32 L234.50,387.84 L235.50,388.34 L236.50,388.83 L237.50,389.31 L238.50,389.78 L239.50,390.24 L240.50,390.69 L241.50,391.12 L242.50,391.55 L243.50,391.96 L244.50,392.36 L245.50,392.76 L246.50,393.14 L247.50,393.51 L248.50,393.88 L249.50,394.23 L250.50,394.57 L251.50,394.90 L252.50,395.23 L253.50,395.54 L254.50,395.84 L255.50,396.14 L256.50,396.42 L257.50,396.70 L258.50,396.96 L259.50,397.22 L260.50,397.47 L261.50,397.71 L262.50,397.94 L263.50,398.16 L264.50,398.38 L265.50,398.58 L266.50,398.78 L267.50,398.97 L268.50,399.15 L269.50,399.32 L270.50,399.48 L271.50,399.64 L272.50,399.79 L273.50,399.93 L274.50,400.06 L275.50,400.19 L276.50,400.31 L277.50,400.42 L278.50,400.52 L279.50,400.62 L280.50,400.71 L281.50,400.79 L282.50,400.85 L283.50,400.85 L284.50,400.85 L285.50,400.85 L286.50,400.85 L287.50,400.85 L288.50,400.85 L289.50,400.85 L290.50,400.85 L291.50,400.85 L292.50,400.85 L293.50,400.85 L294.50,400.85 L295.50,400.85 L296.50,400.85 L297.50,400.85 L298.50,400.85 L299.50,400.85 L300.50,400.85 L301.50,400.85 L302.50,400.85 L303.50,400.85 L304.50,400.85 L305.50,400.85 L306.50,400.85 L307.50,400.85 L308.50,400.85 L309.50,400.85 L310.50,400.85 L311.50,400.85 L312.50,400.85 L313.50,400.85 L314.50,400.85 L315.50,400.85 L316.50,400.85 L317.50,400.85 L318.50,400.85 L319.50,400.85 L320.50,400.85 L321.50,400.85 L322.50,400.85 L323.50,400.85 L324.50,400.85 L325.50,400.85 L326.50,400.85 L327.50,400.85 L328.50,400.85 L329.50,400.85 L330.50,400.85 L331.50,400.85 L332.50,400.85 L333.50,400.85 L334.50,400.85 L335.50,400.85 L336.50,400.85 L337.50,400.85 L338.50,400.85 L339.50,400.85 L340.50,400.85 L341.50,400.85 L342.50,400.85 L343.50,400.85 L344.50,400.85 L345.50,400.85 L346.50,400.85 L347.50,400.85 L348.50,400.85 L349.50,400.85 L350.50,400.85 L351.50,400.85 L352.50,400.85 L353.50,400.85 L354.50,400.85 L355.50,400.85 L356.50,400.85 L357.50,400.85 L358.50,400.85 L359.50,400.85 L360.50,400.85 L361.50,400.85 L362.50,400.85 L363.50,400.85 L364.50,400.85 L365.50,400.85 L366.50,400.85 L367.50,400.85 L368.50,400.85 L369.50,400.85 L370.50,400.85 L371.50,400.85 L372.50,400.85 L373.50,400.85 L374.50,400.85 L375.50,400.85 L376.50,400.85 L377.50,400.85 L378.50,400.85 L379.50,400.85 L380.50,400.85 L381.50,400.85 L382.50,400.85 L383.50,400.85 L384.50,400.85 L385.50,400.85 L386.50,400.85 L387.50,400.85 L388.50,400.85 L389.50,400.85 L390.50,400.85 L391.50,400.85 L392.50,400.85 L393.50,400.85 L394.50,400.85 L395.50,400.85 L396.50,400.85 L397.50,400.85 L398.50,400.85 L399.50,400.85 L400.50,400.85 L401.50,400.85 L402.50,400.85 L403.50,400.85 L404.50,400.85 L405.50,400.85 L406.50,400.85 L407.50,400.85 L408.50,400.85 L409.50,400.85 L410.50,400.85 L411.50,400.85 L412.50,400.85 L413.50,400.85 L414.50,400.85 L415.50,400.85 L416.50,400.85 L417.50,400.85 L418.50,400.85 L419.50,400.85 L420.50,400.85 L421.50,400.85 L422.50,400.85 L423.50,400.85 L424.50,400.85 L425.50,400.85 L426.50,400.85 L427.50,400.85 L428.50,400.85 L429.50,400.85 L430.50,400.85 L431.50,400.85 L432.50,400.85 L433.50,400.85 L434.50,400.85 L435.50,400.85 L436.50,400.85 L437.50,400.85 L438.50,400.85 L439.50,400.85 L440.50,400.85 L441.50,400.85 L442.50,400.85 L443.50,400.85 L444.50,400.85 L445.50,400.85 L446.50,400.85 L447.50,400.85 L448.50,400.85 L449.50,400.85 L450.34,400.85" fill="none" stroke="#000000" stroke-width="1.85" stroke-linejoin="round"/>
<path d="M197.50,354.78 L198.50,356.00 L199.50,357.19 L200.50,358.37 L201.50,359.53 L202.50,360.66 L203.50,361.77 L204.50,362.86 L205.50,363.93 L206.50,364.98 L207.50,366.01 L208.50,367.02 L209.50,368.02 L210.50,368.99 L211.50,369.94 L212.50,370.87 L213.50,371.78 L214.50,372.68 L215.50,373.55 L216.50,374.41 L217.50,375.24 L218.50,376.06 L219.50,376.87 L220.50,377.65 L221.50,378.42 L222.50,379.17 L223.50,379.90 L224.50,380.62 L225.50,381.31 L226.50,382.00 L227.50,382.66 L228.50,383.31 L229.50,383.94 L230.50,384.56 L231.50,385.16 L232.50,385.75 L233.50,386.32 L234.50,386.88 L235.50,387.42 L236.50,387.94 L237.50,388.46 L238.50,388.95 L239.50,389.44 L240.50,389.91 L241.50,390.37 L242.50,390.81 L243.50,391.24 L244.50,391.66 L245.50,392.06 L246.50,392.46 L247.50,392.84 L248.50,393.20 L249.50,393.56 L250.50,393.91 L251.50,394.24 L252.50,394.57 L253.50,394.88 L254.50,395.18 L255.50,395.48 L256.50,395.76 L257.50,396.03 L258.50,396.30 L259.50,396.55 L260.50,396.80 L261.50,397.03 L262.50,397.26 L263.50,397.48 L264.50,397.69 L265.50,397.90 L266.50,398.09 L267.50,398.28 L268.50,398.46 L269.50,398.64 L270.50,398.81 L271.50,398.97 L272.50,399.12 L273.50,399.27 L274.50,399.42 L275.50,399.55 L276.50,399.69 L277.50,399.81 L278.50,399.93 L279.50,400.04 L280.50,400.15 L281.50,400.25 L282.50,400.35 L283.50,400.44 L284.50,400.52 L285.50,400.60 L286.50,400.68 L287.50,400.75 L288.50,400.81 L289.50,400.85 L290.50,400.85 L291.50,400.85 L292.50,400.85 L293.50,400.85 L294.50,400.85 L295.50,400.85 L296.50,400.85 L297.50,400.85 L298.50,400.85 L299.50,400.85 L300.50,400.85 L301.50,400.85 L302.50,400.85 L303.50,400.85 L304.50,400.85 L305.50,400.85 L306.50,400.85 L307.50,400.85 L308.50,400.85 L309.50,400.85 L310.50,400.85 L311.50,400.85 L312.50,400.85 L313.50,400.85 L314.50,400.85 L315.50,400.85 L316.50,400.85 L317.50,400.85 L318.50,400.85 L319.50,400.85 L320.50,400.85 L321.50,400.85 L322.50,400.85 L323.50,400.85 L324.50,400.85 L325.50,400.85 L326.50,400.85 L327.50,400.85 L328.50,400.85 L329.50,400.85 L330.50,400.85 L331.50,400.85 L332.50,400.85 L333.50,400.85 L334.50,400.85 L335.50,400.85 L336.50,400.85 L337.50,400.85 L338.50,400.85 L339.50,400.85 L340.50,400.85 L341.50,400.85 L342.50,400.85 L343.50,400.85 L344.50,400.85 L345.50,400.85 L346.50,400.85 L347.50,400.85 L348.50,400.85 L349.50,400.85 L350.50,400.85 L351.50,400.85 L352.50,400.85 L353.50,400.85 L354.50,400.85 L355.50,400.85 L356.50,400.85 L357.50,400.85 L358.50,400.85 L359.50,400.85 L360.50,400.85 L361.50,400.85 L362.50,400.85 L363.50,400.85 L364.50,400.85 L365.50,400.85 L366.50,400.85 L367.50,400.85 L368.50,400.85 L369.50,400.85 L370.50,400.85 L371.50,400.85 L372.50,400.85 L373.50,400.85 L374.50,400.85 L375.50,400.85 L376.50,400.85 L377.50,400.85 L378.50,400.85 L379.50,400.85 L380.50,400.85 L381.50,400.85 L382.50,400.85 L383.50,400.85 L384.50,400.85 L385.50,400.85 L386.50,400.85 L387.50,400.85 L388.50,400.85 L389.50,400.85 L390.50,400.85 L391.50,400.85 L392.50,400.85 L393.50,400.85 L394.50,400.85 L395.50,400.85 L396.50,400.85 L397.50,400.85 L398.50,400.85 L399.50,400.85 L400.50,400.85 L401.50,400.85 L402.50,400.85 L403.50,400.85 L404.50,400.85 L405.50,400.85 L406.50,400.85 L407.50,400.85 L408.50,400.85 L409.50,400.85 L410.50,400.85 L411.50,400.85 L412.50,400.85 L413.50,400.85 L414.50,400.85 L415.50,400.85 L416.50,400.85 L417.50,400.85 L418.50,400.85 L419.50,400.85 L420.50,400.85 L421.50,400.85 L422.50,400.85 L423.50,400.85 L424.50,400.85 L425.50,400.85 L426.50,400.85 L427.50,400.85 L428.50,400.85 L429.50,400.85 L430.50,400.85 L431.50,400.85 L432.50,400.85 L433.50,400.85 L434.50,400.85 L435.50,400.85 L436.50,400.85 L437.50,400.85 L438.50,400.85 L439.50,400.85 L440.50,400.85 L441.50,400.85 L442.50,400.85 L443.50,400.85 L444.50,400.85 L445.50,400.85 L446.50,400.85 L447.50,400.85 L448.50,400.85 L449.50,400.85 L450.34,400.85" fill="none" stroke="#000000" stroke-width="1.85" stroke-dasharray="6.8 5.4" stroke-linejoin="round"/>
<text x="195.0" y="405.00" text-anchor="end" class="t">0</text>
<text x="195.0" y="376.35" text-anchor="end" class="t">0.1</text>
<text x="195.0" y="347.70" text-anchor="end" class="t">0.2</text>
<text x="195.0" y="319.05" text-anchor="end" class="t">0.3</text>
<text x="195.0" y="290.40" text-anchor="end" class="t">0.4</text>
<text x="195.0" y="261.75" text-anchor="end" class="t">0.5</text>
<text x="195.0" y="233.10" text-anchor="end" class="t">0.6</text>
<text x="198.00" y="415.8" text-anchor="middle" class="t">10<tspan dy="-6.4" class="sup">10</tspan></text>
<text x="249.60" y="415.8" text-anchor="middle" class="t">10<tspan dy="-6.4" class="sup">11</tspan></text>
<text x="301.20" y="415.8" text-anchor="middle" class="t">10<tspan dy="-6.4" class="sup">12</tspan></text>
<text x="352.80" y="415.8" text-anchor="middle" class="t">10<tspan dy="-6.4" class="sup">13</tspan></text>
<text x="404.40" y="415.8" text-anchor="middle" class="t">10<tspan dy="-6.4" class="sup">14</tspan></text>
<text x="456.00" y="415.8" text-anchor="middle" class="t">10<tspan dy="-6.4" class="sup">15</tspan></text>
<text x="277.00" y="425.70" class="t" style="font-size:10.75px">Halo Mass at z=0 [M</text>
<circle cx="371.10" cy="428.00" r="2.15" fill="none" stroke="#000" stroke-width="0.8"/><circle cx="371.10" cy="428.00" r="0.6" fill="#000"/>
<text x="374.90" y="425.70" class="t" style="font-size:10.75px">]</text>
<text transform="translate(179.0,311.30) rotate(-90)" text-anchor="middle" class="t">Hostless Fraction</text>
<path d="M329.1,241.00H349.9" stroke="#1515c4" stroke-width="1.85"/>
<text x="352.9" y="244.30" class="t" style="font-size:10.8px">&lt;v&gt; = 180 km/s; est.</text>
<path d="M329.1,252.45H349.9" stroke="#1515c4" stroke-width="1.85" stroke-dasharray="7.5 5.5"/>
<text x="352.9" y="255.75" class="t" style="font-size:10.8px">&lt;v&gt; = 180 km/s; sim.</text>
<path d="M329.1,263.90H349.9" stroke="#d81c1c" stroke-width="1.85"/>
<text x="352.9" y="267.20" class="t" style="font-size:10.8px">&lt;v&gt; = 90 km/s; est.</text>
<path d="M329.1,275.35H349.9" stroke="#d81c1c" stroke-width="1.85" stroke-dasharray="7.5 5.5"/>
<text x="352.9" y="278.65" class="t" style="font-size:10.8px">&lt;v&gt; = 90 km/s; sim.</text>
<path d="M329.1,286.80H349.9" stroke="#000000" stroke-width="1.85"/>
<text x="352.9" y="290.10" class="t" style="font-size:10.8px">&lt;v&gt; = 45 km/s; est.</text>
<path d="M329.1,298.25H349.9" stroke="#000000" stroke-width="1.85" stroke-dasharray="7.5 5.5"/>
<text x="352.9" y="301.55" class="t" style="font-size:10.8px">&lt;v&gt; = 45 km/s; sim.</text>
<text x="372.7" y="376.8" class="t">r<tspan dy="3.8" class="sub">thresh</tspan><tspan dy="-3.8"> = 15 R</tspan><tspan dy="3.8" class="sub">e</tspan></text>
</svg>
</body></html>
